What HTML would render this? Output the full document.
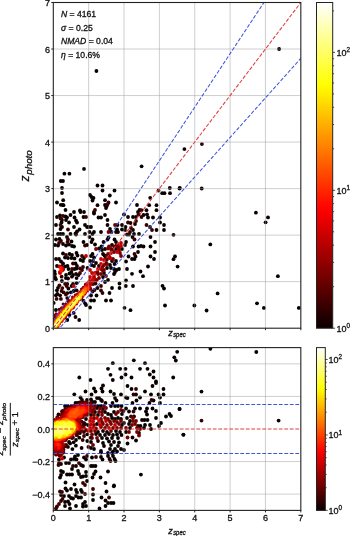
<!DOCTYPE html><html><head><meta charset="utf-8"><style>html,body{margin:0;padding:0;background:#fff;width:350px;height:536px;overflow:hidden}svg{display:block;will-change:transform}text{font-family:"Liberation Sans",sans-serif;fill:#111;stroke:#111;stroke-width:0.3px}</style></head><body>
<svg width="350" height="536" viewBox="0 0 350 536">
<defs><linearGradient id="hot" x1="0" y1="0" x2="0" y2="1"><stop offset="0.000" stop-color="#ffffff"/><stop offset="0.025" stop-color="#ffffe6"/><stop offset="0.050" stop-color="#ffffcd"/><stop offset="0.075" stop-color="#ffffb4"/><stop offset="0.100" stop-color="#ffff9b"/><stop offset="0.125" stop-color="#ffff81"/><stop offset="0.150" stop-color="#ffff68"/><stop offset="0.175" stop-color="#ffff4f"/><stop offset="0.200" stop-color="#ffff36"/><stop offset="0.225" stop-color="#ffff1d"/><stop offset="0.250" stop-color="#ffff04"/><stop offset="0.275" stop-color="#fff100"/><stop offset="0.300" stop-color="#ffe000"/><stop offset="0.325" stop-color="#ffcf00"/><stop offset="0.350" stop-color="#ffbf00"/><stop offset="0.375" stop-color="#ffae00"/><stop offset="0.400" stop-color="#ff9d00"/><stop offset="0.425" stop-color="#ff8d00"/><stop offset="0.450" stop-color="#ff7c00"/><stop offset="0.475" stop-color="#ff6b00"/><stop offset="0.500" stop-color="#ff5a00"/><stop offset="0.525" stop-color="#ff4a00"/><stop offset="0.550" stop-color="#ff3900"/><stop offset="0.575" stop-color="#ff2800"/><stop offset="0.600" stop-color="#ff1700"/><stop offset="0.625" stop-color="#ff0700"/><stop offset="0.650" stop-color="#f50000"/><stop offset="0.675" stop-color="#e40000"/><stop offset="0.700" stop-color="#d30000"/><stop offset="0.725" stop-color="#c30000"/><stop offset="0.750" stop-color="#b20000"/><stop offset="0.775" stop-color="#a10000"/><stop offset="0.800" stop-color="#900000"/><stop offset="0.825" stop-color="#800000"/><stop offset="0.850" stop-color="#6f0000"/><stop offset="0.875" stop-color="#5e0000"/><stop offset="0.900" stop-color="#4e0000"/><stop offset="0.925" stop-color="#3d0000"/><stop offset="0.950" stop-color="#2c0000"/><stop offset="0.975" stop-color="#1b0000"/><stop offset="1.000" stop-color="#0b0000"/></linearGradient>
<clipPath id="ct"><rect x="53.30" y="2.50" width="247.52" height="325.70"/></clipPath>
<clipPath id="cb"><rect x="53.30" y="347.60" width="247.52" height="162.80"/></clipPath></defs>
<g clip-path="url(#ct)"><circle cx="96.4" cy="71.0" r="1.90" fill="#0b0000"/><circle cx="279.1" cy="49.0" r="1.90" fill="#0b0000"/><circle cx="184.4" cy="149.1" r="1.90" fill="#0b0000"/><circle cx="179.5" cy="188.5" r="1.90" fill="#0b0000"/><circle cx="201.7" cy="188.5" r="1.90" fill="#0b0000"/><circle cx="255.9" cy="212.7" r="1.90" fill="#0b0000"/><circle cx="268.0" cy="217.4" r="1.90" fill="#0b0000"/><circle cx="265.6" cy="222.3" r="1.90" fill="#0b0000"/><circle cx="210.3" cy="244.4" r="1.90" fill="#0b0000"/><circle cx="177.6" cy="266.6" r="1.90" fill="#0b0000"/><circle cx="217.6" cy="293.4" r="1.90" fill="#0b0000"/><circle cx="194.4" cy="305.5" r="1.90" fill="#0b0000"/><circle cx="206.6" cy="310.5" r="1.90" fill="#0b0000"/><circle cx="277.9" cy="276.2" r="1.90" fill="#0b0000"/><circle cx="257.0" cy="303.3" r="1.90" fill="#0b0000"/><circle cx="263.9" cy="307.9" r="1.90" fill="#0b0000"/><circle cx="298.8" cy="307.9" r="1.90" fill="#0b0000"/><circle cx="84.0" cy="168.9" r="1.90" fill="#0b0000"/><circle cx="64.4" cy="173.7" r="1.90" fill="#0b0000"/><circle cx="69.4" cy="173.7" r="1.90" fill="#0b0000"/><circle cx="141.6" cy="166.3" r="1.90" fill="#0b0000"/><circle cx="60.8" cy="181.0" r="1.90" fill="#0b0000"/><circle cx="63.0" cy="181.0" r="1.90" fill="#0b0000"/><circle cx="62.0" cy="188.0" r="1.90" fill="#0b0000"/><circle cx="62.0" cy="193.0" r="1.90" fill="#0b0000"/><circle cx="63.2" cy="200.2" r="1.90" fill="#0b0000"/><circle cx="57.0" cy="202.5" r="1.90" fill="#0b0000"/><circle cx="60.8" cy="204.8" r="1.90" fill="#0b0000"/><circle cx="62.7" cy="205.0" r="1.90" fill="#0b0000"/><circle cx="63.5" cy="205.2" r="1.90" fill="#0b0000"/><circle cx="65.5" cy="210.0" r="1.90" fill="#0b0000"/><circle cx="74.0" cy="212.0" r="1.90" fill="#0b0000"/><circle cx="80.0" cy="210.5" r="1.90" fill="#0b0000"/><circle cx="80.5" cy="212.0" r="1.90" fill="#0b0000"/><circle cx="84.0" cy="212.0" r="1.90" fill="#0b0000"/><circle cx="97.5" cy="185.5" r="1.90" fill="#0b0000"/><circle cx="102.5" cy="185.5" r="1.90" fill="#0b0000"/><circle cx="102.5" cy="190.5" r="1.90" fill="#0b0000"/><circle cx="114.5" cy="190.5" r="1.90" fill="#0b0000"/><circle cx="90.0" cy="195.0" r="1.90" fill="#0b0000"/><circle cx="91.5" cy="197.0" r="1.90" fill="#0b0000"/><circle cx="93.5" cy="198.0" r="1.90" fill="#0b0000"/><circle cx="92.5" cy="200.5" r="1.90" fill="#0b0000"/><circle cx="109.8" cy="195.5" r="1.90" fill="#0b0000"/><circle cx="105.0" cy="200.2" r="1.90" fill="#0b0000"/><circle cx="116.0" cy="202.5" r="1.90" fill="#0b0000"/><circle cx="97.5" cy="205.2" r="1.90" fill="#0b0000"/><circle cx="105.0" cy="205.0" r="1.90" fill="#0b0000"/><circle cx="106.5" cy="206.5" r="1.90" fill="#0b0000"/><circle cx="106.0" cy="208.0" r="1.90" fill="#0b0000"/><circle cx="94.0" cy="212.0" r="1.90" fill="#0b0000"/><circle cx="150.2" cy="197.8" r="1.90" fill="#0b0000"/><circle cx="137.0" cy="205.0" r="1.90" fill="#0b0000"/><circle cx="149.2" cy="205.2" r="1.90" fill="#0b0000"/><circle cx="156.5" cy="205.2" r="1.90" fill="#0b0000"/><circle cx="139.5" cy="210.0" r="1.90" fill="#0b0000"/><circle cx="146.5" cy="210.2" r="1.90" fill="#0b0000"/><circle cx="156.5" cy="210.2" r="1.90" fill="#0b0000"/><circle cx="138.0" cy="212.0" r="1.90" fill="#0b0000"/><circle cx="169.8" cy="188.0" r="1.90" fill="#0b0000"/><circle cx="179.8" cy="188.0" r="1.90" fill="#0b0000"/><circle cx="162.2" cy="193.2" r="1.90" fill="#0b0000"/><circle cx="164.5" cy="193.2" r="1.90" fill="#0b0000"/><circle cx="170.0" cy="193.2" r="1.90" fill="#0b0000"/><circle cx="57.0" cy="217.0" r="1.90" fill="#0b0000"/><circle cx="60.0" cy="215.5" r="1.90" fill="#0b0000"/><circle cx="65.5" cy="216.5" r="1.90" fill="#0b0000"/><circle cx="67.0" cy="217.5" r="1.90" fill="#0b0000"/><circle cx="62.0" cy="220.0" r="1.90" fill="#0b0000"/><circle cx="66.0" cy="220.0" r="1.90" fill="#0b0000"/><circle cx="70.5" cy="215.0" r="1.90" fill="#0b0000"/><circle cx="74.5" cy="217.5" r="1.90" fill="#0b0000"/><circle cx="76.0" cy="220.5" r="1.90" fill="#0b0000"/><circle cx="77.0" cy="222.5" r="1.90" fill="#0b0000"/><circle cx="83.5" cy="217.0" r="1.90" fill="#0b0000"/><circle cx="69.0" cy="222.5" r="1.90" fill="#0b0000"/><circle cx="61.5" cy="222.5" r="1.90" fill="#0b0000"/><circle cx="56.0" cy="225.0" r="1.90" fill="#0b0000"/><circle cx="62.0" cy="227.0" r="1.90" fill="#0b0000"/><circle cx="60.5" cy="229.0" r="1.90" fill="#0b0000"/><circle cx="74.0" cy="227.0" r="1.90" fill="#0b0000"/><circle cx="79.5" cy="229.5" r="1.90" fill="#0b0000"/><circle cx="77.0" cy="231.5" r="1.90" fill="#0b0000"/><circle cx="75.5" cy="233.5" r="1.90" fill="#0b0000"/><circle cx="85.0" cy="225.0" r="1.90" fill="#0b0000"/><circle cx="87.0" cy="227.0" r="1.90" fill="#0b0000"/><circle cx="58.0" cy="234.0" r="1.90" fill="#0b0000"/><circle cx="60.5" cy="234.0" r="1.90" fill="#0b0000"/><circle cx="63.0" cy="234.0" r="1.90" fill="#0b0000"/><circle cx="70.5" cy="234.0" r="1.90" fill="#0b0000"/><circle cx="76.0" cy="234.5" r="1.90" fill="#0b0000"/><circle cx="85.0" cy="234.0" r="1.90" fill="#0b0000"/><circle cx="67.0" cy="237.0" r="1.90" fill="#0b0000"/><circle cx="56.0" cy="239.5" r="1.90" fill="#0b0000"/><circle cx="59.5" cy="239.0" r="1.90" fill="#0b0000"/><circle cx="71.5" cy="241.5" r="1.90" fill="#0b0000"/><circle cx="55.0" cy="245.0" r="1.90" fill="#0b0000"/><circle cx="58.0" cy="245.5" r="1.90" fill="#0b0000"/><circle cx="63.0" cy="244.0" r="1.90" fill="#0b0000"/><circle cx="66.0" cy="245.5" r="1.90" fill="#0b0000"/><circle cx="69.0" cy="244.5" r="1.90" fill="#0b0000"/><circle cx="72.0" cy="246.0" r="1.90" fill="#0b0000"/><circle cx="74.0" cy="246.5" r="1.90" fill="#0b0000"/><circle cx="83.5" cy="242.0" r="1.90" fill="#0b0000"/><circle cx="87.0" cy="245.0" r="1.90" fill="#0b0000"/><circle cx="94.0" cy="213.5" r="1.90" fill="#0b0000"/><circle cx="105.0" cy="215.0" r="1.90" fill="#0b0000"/><circle cx="98.5" cy="217.5" r="1.90" fill="#0b0000"/><circle cx="101.0" cy="217.5" r="1.90" fill="#0b0000"/><circle cx="107.5" cy="220.0" r="1.90" fill="#0b0000"/><circle cx="107.5" cy="225.0" r="1.90" fill="#0b0000"/><circle cx="91.0" cy="227.0" r="1.90" fill="#0b0000"/><circle cx="88.5" cy="227.0" r="1.90" fill="#0b0000"/><circle cx="117.5" cy="225.0" r="1.90" fill="#0b0000"/><circle cx="122.0" cy="225.0" r="1.90" fill="#0b0000"/><circle cx="110.0" cy="229.0" r="1.90" fill="#0b0000"/><circle cx="111.5" cy="232.0" r="1.90" fill="#0b0000"/><circle cx="117.0" cy="229.5" r="1.90" fill="#0b0000"/><circle cx="116.0" cy="232.0" r="1.90" fill="#0b0000"/><circle cx="118.0" cy="232.0" r="1.90" fill="#0b0000"/><circle cx="122.0" cy="229.5" r="1.90" fill="#0b0000"/><circle cx="101.0" cy="232.0" r="1.90" fill="#0b0000"/><circle cx="94.0" cy="232.0" r="1.90" fill="#0b0000"/><circle cx="92.5" cy="234.0" r="1.90" fill="#0b0000"/><circle cx="89.5" cy="232.0" r="1.90" fill="#0b0000"/><circle cx="89.5" cy="237.0" r="1.90" fill="#0b0000"/><circle cx="92.5" cy="239.5" r="1.90" fill="#0b0000"/><circle cx="91.5" cy="242.0" r="1.90" fill="#0b0000"/><circle cx="108.5" cy="237.5" r="1.90" fill="#0b0000"/><circle cx="107.5" cy="239.5" r="1.90" fill="#0b0000"/><circle cx="114.5" cy="239.5" r="1.90" fill="#0b0000"/><circle cx="116.0" cy="242.0" r="1.90" fill="#0b0000"/><circle cx="103.5" cy="242.0" r="1.90" fill="#0b0000"/><circle cx="95.0" cy="244.5" r="1.90" fill="#0b0000"/><circle cx="101.5" cy="246.5" r="1.90" fill="#0b0000"/><circle cx="112.0" cy="245.0" r="1.90" fill="#0b0000"/><circle cx="124.0" cy="214.5" r="1.90" fill="#0b0000"/><circle cx="128.0" cy="217.0" r="1.90" fill="#0b0000"/><circle cx="133.0" cy="217.0" r="1.90" fill="#0b0000"/><circle cx="136.0" cy="217.0" r="1.90" fill="#0b0000"/><circle cx="143.5" cy="215.0" r="1.90" fill="#0b0000"/><circle cx="147.0" cy="214.5" r="1.90" fill="#0b0000"/><circle cx="148.0" cy="217.5" r="1.90" fill="#0b0000"/><circle cx="153.0" cy="217.5" r="1.90" fill="#0b0000"/><circle cx="130.5" cy="223.0" r="1.90" fill="#0b0000"/><circle cx="135.0" cy="224.0" r="1.90" fill="#0b0000"/><circle cx="150.0" cy="227.0" r="1.90" fill="#0b0000"/><circle cx="156.5" cy="230.0" r="1.90" fill="#0b0000"/><circle cx="125.5" cy="227.0" r="1.90" fill="#0b0000"/><circle cx="125.0" cy="230.0" r="1.90" fill="#0b0000"/><circle cx="133.0" cy="230.0" r="1.90" fill="#0b0000"/><circle cx="127.0" cy="234.5" r="1.90" fill="#0b0000"/><circle cx="129.0" cy="234.5" r="1.90" fill="#0b0000"/><circle cx="134.0" cy="234.0" r="1.90" fill="#0b0000"/><circle cx="139.0" cy="234.0" r="1.90" fill="#0b0000"/><circle cx="132.5" cy="237.0" r="1.90" fill="#0b0000"/><circle cx="150.5" cy="237.0" r="1.90" fill="#0b0000"/><circle cx="126.0" cy="242.0" r="1.90" fill="#0b0000"/><circle cx="125.0" cy="245.0" r="1.90" fill="#0b0000"/><circle cx="155.0" cy="242.0" r="1.90" fill="#0b0000"/><circle cx="133.0" cy="246.5" r="1.90" fill="#0b0000"/><circle cx="138.5" cy="246.5" r="1.90" fill="#0b0000"/><circle cx="141.0" cy="246.0" r="1.90" fill="#0b0000"/><circle cx="143.5" cy="246.5" r="1.90" fill="#0b0000"/><circle cx="150.5" cy="246.5" r="1.90" fill="#0b0000"/><circle cx="160.0" cy="217.5" r="1.90" fill="#0b0000"/><circle cx="160.0" cy="222.5" r="1.90" fill="#0b0000"/><circle cx="164.0" cy="225.0" r="1.90" fill="#0b0000"/><circle cx="164.0" cy="230.0" r="1.90" fill="#0b0000"/><circle cx="173.5" cy="234.8" r="1.90" fill="#0b0000"/><circle cx="63.0" cy="253.5" r="1.90" fill="#0b0000"/><circle cx="69.5" cy="254.0" r="1.90" fill="#0b0000"/><circle cx="72.0" cy="255.0" r="1.90" fill="#0b0000"/><circle cx="76.5" cy="253.0" r="1.90" fill="#0b0000"/><circle cx="77.5" cy="255.5" r="1.90" fill="#0b0000"/><circle cx="65.0" cy="257.5" r="1.90" fill="#0b0000"/><circle cx="68.0" cy="258.0" r="1.90" fill="#0b0000"/><circle cx="71.5" cy="258.0" r="1.90" fill="#0b0000"/><circle cx="74.5" cy="258.5" r="1.90" fill="#0b0000"/><circle cx="56.0" cy="259.0" r="1.90" fill="#0b0000"/><circle cx="59.0" cy="259.0" r="1.90" fill="#0b0000"/><circle cx="84.0" cy="258.0" r="1.90" fill="#0b0000"/><circle cx="80.5" cy="260.0" r="1.90" fill="#0b0000"/><circle cx="83.0" cy="261.0" r="1.90" fill="#0b0000"/><circle cx="61.0" cy="261.5" r="1.90" fill="#0b0000"/><circle cx="63.0" cy="263.5" r="1.90" fill="#0b0000"/><circle cx="75.5" cy="263.5" r="1.90" fill="#0b0000"/><circle cx="77.0" cy="266.0" r="1.90" fill="#0b0000"/><circle cx="57.0" cy="266.0" r="1.90" fill="#0b0000"/><circle cx="65.0" cy="266.5" r="1.90" fill="#0b0000"/><circle cx="67.5" cy="266.0" r="1.90" fill="#0b0000"/><circle cx="54.5" cy="271.5" r="1.90" fill="#0b0000"/><circle cx="55.0" cy="274.0" r="1.90" fill="#0b0000"/><circle cx="68.5" cy="269.0" r="1.90" fill="#0b0000"/><circle cx="71.5" cy="272.0" r="1.90" fill="#0b0000"/><circle cx="69.5" cy="273.5" r="1.90" fill="#0b0000"/><circle cx="74.5" cy="269.0" r="1.90" fill="#0b0000"/><circle cx="76.5" cy="268.5" r="1.90" fill="#0b0000"/><circle cx="78.5" cy="275.0" r="1.90" fill="#0b0000"/><circle cx="66.0" cy="275.0" r="1.90" fill="#0b0000"/><circle cx="73.0" cy="275.0" r="1.90" fill="#0b0000"/><circle cx="76.0" cy="274.0" r="1.90" fill="#0b0000"/><circle cx="87.5" cy="268.0" r="1.90" fill="#0b0000"/><circle cx="99.0" cy="248.5" r="1.90" fill="#0b0000"/><circle cx="102.0" cy="250.0" r="1.90" fill="#0b0000"/><circle cx="105.0" cy="249.0" r="1.90" fill="#0b0000"/><circle cx="116.0" cy="249.0" r="1.90" fill="#0b0000"/><circle cx="122.0" cy="249.0" r="1.90" fill="#0b0000"/><circle cx="92.5" cy="254.0" r="1.90" fill="#0b0000"/><circle cx="91.0" cy="256.0" r="1.90" fill="#0b0000"/><circle cx="94.0" cy="257.5" r="1.90" fill="#0b0000"/><circle cx="103.0" cy="254.0" r="1.90" fill="#0b0000"/><circle cx="104.5" cy="255.5" r="1.90" fill="#0b0000"/><circle cx="105.5" cy="257.0" r="1.90" fill="#0b0000"/><circle cx="116.0" cy="261.0" r="1.90" fill="#0b0000"/><circle cx="112.0" cy="261.0" r="1.90" fill="#0b0000"/><circle cx="114.5" cy="264.0" r="1.90" fill="#0b0000"/><circle cx="90.0" cy="261.0" r="1.90" fill="#0b0000"/><circle cx="93.0" cy="261.0" r="1.90" fill="#0b0000"/><circle cx="96.0" cy="263.0" r="1.90" fill="#0b0000"/><circle cx="91.5" cy="265.0" r="1.90" fill="#0b0000"/><circle cx="94.0" cy="266.0" r="1.90" fill="#0b0000"/><circle cx="99.0" cy="266.0" r="1.90" fill="#0b0000"/><circle cx="110.0" cy="265.0" r="1.90" fill="#0b0000"/><circle cx="111.0" cy="268.0" r="1.90" fill="#0b0000"/><circle cx="114.0" cy="269.0" r="1.90" fill="#0b0000"/><circle cx="116.5" cy="270.0" r="1.90" fill="#0b0000"/><circle cx="119.0" cy="269.0" r="1.90" fill="#0b0000"/><circle cx="107.0" cy="268.0" r="1.90" fill="#0b0000"/><circle cx="104.0" cy="273.0" r="1.90" fill="#0b0000"/><circle cx="115.0" cy="272.0" r="1.90" fill="#0b0000"/><circle cx="114.0" cy="274.0" r="1.90" fill="#0b0000"/><circle cx="103.0" cy="277.0" r="1.90" fill="#0b0000"/><circle cx="108.0" cy="280.0" r="1.90" fill="#0b0000"/><circle cx="105.0" cy="282.0" r="1.90" fill="#0b0000"/><circle cx="138.0" cy="252.0" r="1.90" fill="#0b0000"/><circle cx="128.5" cy="256.5" r="1.90" fill="#0b0000"/><circle cx="132.0" cy="259.0" r="1.90" fill="#0b0000"/><circle cx="134.5" cy="259.0" r="1.90" fill="#0b0000"/><circle cx="135.5" cy="256.5" r="1.90" fill="#0b0000"/><circle cx="150.5" cy="256.5" r="1.90" fill="#0b0000"/><circle cx="154.0" cy="259.0" r="1.90" fill="#0b0000"/><circle cx="155.0" cy="252.0" r="1.90" fill="#0b0000"/><circle cx="126.0" cy="261.5" r="1.90" fill="#0b0000"/><circle cx="148.0" cy="266.5" r="1.90" fill="#0b0000"/><circle cx="127.0" cy="269.0" r="1.90" fill="#0b0000"/><circle cx="140.5" cy="271.5" r="1.90" fill="#0b0000"/><circle cx="132.0" cy="273.8" r="1.90" fill="#0b0000"/><circle cx="143.0" cy="276.2" r="1.90" fill="#0b0000"/><circle cx="126.0" cy="280.5" r="1.90" fill="#0b0000"/><circle cx="175.0" cy="256.5" r="1.90" fill="#0b0000"/><circle cx="173.5" cy="259.2" r="1.90" fill="#0b0000"/><circle cx="92.5" cy="291.5" r="1.90" fill="#0b0000"/><circle cx="97.5" cy="288.0" r="1.90" fill="#0b0000"/><circle cx="91.0" cy="295.5" r="1.90" fill="#0b0000"/><circle cx="96.5" cy="295.5" r="1.90" fill="#0b0000"/><circle cx="91.0" cy="300.5" r="1.90" fill="#0b0000"/><circle cx="94.0" cy="300.5" r="1.90" fill="#0b0000"/><circle cx="106.0" cy="300.5" r="1.90" fill="#0b0000"/><circle cx="111.0" cy="300.5" r="1.90" fill="#0b0000"/><circle cx="109.5" cy="293.0" r="1.90" fill="#0b0000"/><circle cx="112.0" cy="288.0" r="1.90" fill="#0b0000"/><circle cx="119.5" cy="283.5" r="1.90" fill="#0b0000"/><circle cx="119.5" cy="288.0" r="1.90" fill="#0b0000"/><circle cx="90.0" cy="307.5" r="1.90" fill="#0b0000"/><circle cx="125.8" cy="286.0" r="1.90" fill="#0b0000"/><circle cx="133.0" cy="286.0" r="1.90" fill="#0b0000"/><circle cx="124.5" cy="307.8" r="1.90" fill="#0b0000"/><circle cx="130.5" cy="310.2" r="1.90" fill="#0b0000"/><circle cx="162.5" cy="285.8" r="1.90" fill="#0b0000"/><circle cx="164.0" cy="288.5" r="1.90" fill="#0b0000"/><circle cx="165.0" cy="305.5" r="1.90" fill="#0b0000"/><circle cx="75.5" cy="317.0" r="1.90" fill="#0b0000"/><circle cx="79.2" cy="320.0" r="1.90" fill="#0b0000"/><circle cx="86.0" cy="305.0" r="1.90" fill="#0b0000"/><circle cx="55.1" cy="277.4" r="1.90" fill="#0b0000"/><circle cx="65.9" cy="278.1" r="1.90" fill="#0b0000"/><circle cx="68.0" cy="278.5" r="1.90" fill="#0b0000"/><circle cx="71.9" cy="276.7" r="1.90" fill="#0b0000"/><circle cx="76.6" cy="278.1" r="1.90" fill="#0b0000"/><circle cx="55.9" cy="279.2" r="1.90" fill="#0b0000"/><circle cx="61.9" cy="281.0" r="1.90" fill="#0b0000"/><circle cx="58.0" cy="287.8" r="1.90" fill="#0b0000"/><circle cx="56.9" cy="290.3" r="1.90" fill="#0b0000"/><circle cx="68.4" cy="288.5" r="1.90" fill="#0b0000"/><circle cx="71.6" cy="286.0" r="1.90" fill="#0b0000"/><circle cx="73.0" cy="283.9" r="1.90" fill="#0b0000"/><circle cx="76.6" cy="283.1" r="1.90" fill="#0b0000"/><circle cx="67.3" cy="293.1" r="1.90" fill="#0b0000"/><circle cx="70.9" cy="292.4" r="1.90" fill="#0b0000"/><circle cx="73.7" cy="291.0" r="1.90" fill="#0b0000"/><circle cx="76.6" cy="290.3" r="1.90" fill="#0b0000"/><circle cx="55.9" cy="295.3" r="1.90" fill="#0b0000"/><circle cx="57.3" cy="293.9" r="1.90" fill="#0b0000"/><circle cx="60.1" cy="295.3" r="1.90" fill="#0b0000"/><circle cx="67.3" cy="298.1" r="1.90" fill="#0b0000"/><circle cx="53.7" cy="302.9" r="1.90" fill="#0b0000"/><circle cx="55.9" cy="310.0" r="1.90" fill="#0b0000"/><circle cx="56.6" cy="315.0" r="1.90" fill="#0b0000"/><circle cx="55.1" cy="318.6" r="1.90" fill="#0b0000"/><circle cx="67.3" cy="320.0" r="1.90" fill="#0b0000"/><circle cx="69.4" cy="315.0" r="1.90" fill="#0b0000"/><circle cx="73.7" cy="312.9" r="1.90" fill="#0b0000"/><circle cx="83.4" cy="300.7" r="1.90" fill="#0b0000"/><circle cx="85.1" cy="303.3" r="1.90" fill="#0b0000"/><circle cx="201.9" cy="144.1" r="1.90" fill="#390000"/><circle cx="108.5" cy="202.5" r="1.90" fill="#390000"/><circle cx="107.5" cy="204.5" r="1.90" fill="#390000"/><circle cx="95.0" cy="210.0" r="1.90" fill="#390000"/><circle cx="141.5" cy="210.2" r="1.90" fill="#390000"/><circle cx="158.5" cy="190.5" r="1.90" fill="#390000"/><circle cx="63.0" cy="216.0" r="1.90" fill="#390000"/><circle cx="60.5" cy="218.5" r="1.90" fill="#390000"/><circle cx="86.0" cy="217.0" r="1.90" fill="#390000"/><circle cx="60.5" cy="225.0" r="1.90" fill="#390000"/><circle cx="68.0" cy="229.5" r="1.90" fill="#390000"/><circle cx="61.0" cy="241.0" r="1.90" fill="#390000"/><circle cx="59.0" cy="243.0" r="1.90" fill="#390000"/><circle cx="68.0" cy="239.5" r="1.90" fill="#390000"/><circle cx="67.5" cy="242.0" r="1.90" fill="#390000"/><circle cx="85.0" cy="245.5" r="1.90" fill="#390000"/><circle cx="115.0" cy="225.0" r="1.90" fill="#760000"/><circle cx="108.5" cy="232.0" r="1.90" fill="#760000"/><circle cx="109.0" cy="246.5" r="1.90" fill="#760000"/><circle cx="114.5" cy="246.5" r="1.90" fill="#760000"/><circle cx="138.5" cy="214.5" r="1.90" fill="#390000"/><circle cx="141.5" cy="217.0" r="1.90" fill="#390000"/><circle cx="128.0" cy="222.5" r="1.90" fill="#390000"/><circle cx="136.0" cy="221.0" r="1.90" fill="#390000"/><circle cx="146.5" cy="225.0" r="1.90" fill="#390000"/><circle cx="152.0" cy="230.0" r="1.90" fill="#390000"/><circle cx="131.0" cy="228.0" r="1.90" fill="#390000"/><circle cx="130.0" cy="232.0" r="1.90" fill="#390000"/><circle cx="134.5" cy="239.5" r="1.90" fill="#390000"/><circle cx="66.0" cy="255.0" r="1.90" fill="#390000"/><circle cx="82.0" cy="256.0" r="1.90" fill="#390000"/><circle cx="73.0" cy="263.5" r="1.90" fill="#390000"/><circle cx="63.0" cy="269.5" r="1.90" fill="#390000"/><circle cx="72.0" cy="269.0" r="1.90" fill="#390000"/><circle cx="80.0" cy="268.5" r="1.90" fill="#390000"/><circle cx="82.0" cy="270.0" r="1.90" fill="#390000"/><circle cx="83.0" cy="267.0" r="1.90" fill="#390000"/><circle cx="80.0" cy="273.0" r="1.90" fill="#390000"/><circle cx="96.0" cy="249.0" r="1.90" fill="#760000"/><circle cx="108.0" cy="248.5" r="1.90" fill="#760000"/><circle cx="111.0" cy="249.0" r="1.90" fill="#760000"/><circle cx="119.0" cy="250.0" r="1.90" fill="#760000"/><circle cx="108.0" cy="254.0" r="1.90" fill="#760000"/><circle cx="114.0" cy="252.0" r="1.90" fill="#760000"/><circle cx="120.0" cy="253.0" r="1.90" fill="#760000"/><circle cx="121.0" cy="256.0" r="1.90" fill="#760000"/><circle cx="107.0" cy="259.0" r="1.90" fill="#760000"/><circle cx="113.0" cy="259.0" r="1.90" fill="#760000"/><circle cx="107.0" cy="264.0" r="1.90" fill="#760000"/><circle cx="104.0" cy="270.0" r="1.90" fill="#760000"/><circle cx="98.0" cy="274.0" r="1.90" fill="#760000"/><circle cx="101.0" cy="274.0" r="1.90" fill="#760000"/><circle cx="106.0" cy="276.0" r="1.90" fill="#760000"/><circle cx="99.0" cy="278.0" r="1.90" fill="#760000"/><circle cx="94.0" cy="280.0" r="1.90" fill="#760000"/><circle cx="134.5" cy="254.0" r="1.90" fill="#390000"/><circle cx="93.0" cy="284.0" r="1.90" fill="#390000"/><circle cx="95.5" cy="283.5" r="1.90" fill="#390000"/><circle cx="94.5" cy="290.0" r="1.90" fill="#390000"/><circle cx="101.0" cy="286.0" r="1.90" fill="#390000"/><circle cx="101.0" cy="290.5" r="1.90" fill="#390000"/><circle cx="102.5" cy="293.0" r="1.90" fill="#390000"/><circle cx="61.6" cy="276.7" r="1.90" fill="#390000"/><circle cx="59.4" cy="285.3" r="1.90" fill="#390000"/><circle cx="65.1" cy="283.9" r="1.90" fill="#390000"/><circle cx="67.3" cy="283.9" r="1.90" fill="#390000"/><circle cx="66.6" cy="286.0" r="1.90" fill="#390000"/><circle cx="62.3" cy="288.1" r="1.90" fill="#390000"/><circle cx="61.6" cy="291.0" r="1.90" fill="#390000"/><circle cx="63.7" cy="292.4" r="1.90" fill="#390000"/><circle cx="65.9" cy="294.6" r="1.90" fill="#390000"/><circle cx="56.6" cy="298.9" r="1.90" fill="#390000"/><circle cx="60.9" cy="298.9" r="1.90" fill="#390000"/><circle cx="61.5" cy="266.5" r="1.90" fill="#390000"/><circle cx="118.0" cy="245.0" r="1.90" fill="#c60000"/><circle cx="121.0" cy="243.0" r="1.90" fill="#c60000"/><circle cx="121.0" cy="246.0" r="1.90" fill="#c60000"/><circle cx="86.0" cy="256.0" r="1.90" fill="#c60000"/><circle cx="59.5" cy="266.5" r="1.90" fill="#c60000"/><circle cx="62.0" cy="270.5" r="1.90" fill="#c60000"/><circle cx="60.0" cy="272.0" r="1.90" fill="#c60000"/><circle cx="111.0" cy="253.0" r="1.90" fill="#c60000"/><circle cx="117.0" cy="252.0" r="1.90" fill="#c60000"/><circle cx="101.0" cy="259.0" r="1.90" fill="#c60000"/><circle cx="104.0" cy="260.0" r="1.90" fill="#c60000"/><circle cx="110.0" cy="258.0" r="1.90" fill="#c60000"/><circle cx="101.0" cy="264.0" r="1.90" fill="#c60000"/><circle cx="104.0" cy="265.0" r="1.90" fill="#c60000"/><circle cx="98.0" cy="269.0" r="1.90" fill="#c60000"/><circle cx="101.0" cy="269.0" r="1.90" fill="#c60000"/><circle cx="90.0" cy="270.0" r="1.90" fill="#c60000"/><circle cx="92.0" cy="273.0" r="1.90" fill="#c60000"/><circle cx="95.0" cy="273.0" r="1.90" fill="#c60000"/><circle cx="90.0" cy="277.0" r="1.90" fill="#c60000"/><circle cx="94.0" cy="276.0" r="1.90" fill="#c60000"/><circle cx="89.0" cy="282.0" r="1.90" fill="#c60000"/><circle cx="90.0" cy="285.0" r="1.90" fill="#c60000"/><circle cx="90.5" cy="289.0" r="1.90" fill="#c60000"/><circle cx="73.7" cy="286.0" r="1.90" fill="#c60000"/><circle cx="60.0" cy="273.0" r="1.90" fill="#c60000"/><circle cx="62.5" cy="268.5" r="1.90" fill="#c60000"/><circle cx="61.0" cy="268.0" r="1.90" fill="#ff1700"/><circle cx="61.0" cy="270.6" r="1.90" fill="#ff1700"/><circle cx="108.9" cy="256.4" r="2.00" fill="#430000"/><circle cx="116.5" cy="245.8" r="2.00" fill="#5e0000"/><circle cx="106.4" cy="259.9" r="2.00" fill="#5f0000"/><circle cx="106.8" cy="256.1" r="2.00" fill="#5f0000"/><circle cx="97.3" cy="272.2" r="2.00" fill="#6b0000"/><circle cx="111.9" cy="249.6" r="2.00" fill="#6b0000"/><circle cx="102.6" cy="266.3" r="2.00" fill="#700000"/><circle cx="106.1" cy="263.8" r="2.00" fill="#720000"/><circle cx="102.7" cy="270.2" r="2.00" fill="#760000"/><circle cx="88.0" cy="283.5" r="2.00" fill="#770000"/><circle cx="118.3" cy="247.6" r="2.00" fill="#810000"/><circle cx="96.7" cy="279.9" r="2.00" fill="#850000"/><circle cx="94.0" cy="278.0" r="2.00" fill="#950000"/><circle cx="90.2" cy="280.0" r="2.00" fill="#a60000"/><circle cx="90.0" cy="284.0" r="2.00" fill="#b20000"/><circle cx="109.8" cy="258.0" r="2.00" fill="#b80000"/><circle cx="91.8" cy="282.0" r="2.00" fill="#c80000"/><circle cx="89.5" cy="285.6" r="2.00" fill="#ca0000"/><circle cx="93.0" cy="279.3" r="2.00" fill="#da0000"/><circle cx="50.8" cy="320.2" r="1.50" fill="#3d0000"/><circle cx="50.8" cy="321.1" r="1.50" fill="#430000"/><circle cx="50.5" cy="320.5" r="1.50" fill="#440000"/><circle cx="65.3" cy="317.6" r="1.50" fill="#440000"/><circle cx="90.3" cy="288.3" r="1.50" fill="#440000"/><circle cx="72.9" cy="308.0" r="1.50" fill="#470000"/><circle cx="85.4" cy="284.5" r="1.50" fill="#480000"/><circle cx="81.6" cy="298.0" r="1.50" fill="#490000"/><circle cx="77.1" cy="294.5" r="1.50" fill="#4d0000"/><circle cx="55.9" cy="314.7" r="1.50" fill="#4d0000"/><circle cx="81.5" cy="288.9" r="1.50" fill="#4e0000"/><circle cx="68.5" cy="301.6" r="1.50" fill="#4e0000"/><circle cx="59.1" cy="309.2" r="1.50" fill="#4e0000"/><circle cx="63.1" cy="303.9" r="1.50" fill="#540000"/><circle cx="56.7" cy="328.2" r="1.50" fill="#590000"/><circle cx="85.8" cy="284.8" r="1.50" fill="#590000"/><circle cx="78.0" cy="294.1" r="1.50" fill="#5c0000"/><circle cx="68.0" cy="300.9" r="1.50" fill="#5c0000"/><circle cx="53.7" cy="320.3" r="1.50" fill="#5e0000"/><circle cx="63.3" cy="319.0" r="1.50" fill="#5f0000"/><circle cx="55.0" cy="318.8" r="1.50" fill="#620000"/><circle cx="80.1" cy="299.5" r="1.50" fill="#630000"/><circle cx="82.2" cy="289.8" r="1.50" fill="#640000"/><circle cx="54.9" cy="315.5" r="1.50" fill="#650000"/><circle cx="54.3" cy="331.0" r="1.50" fill="#670000"/><circle cx="55.0" cy="329.8" r="1.50" fill="#690000"/><circle cx="69.0" cy="303.1" r="1.50" fill="#690000"/><circle cx="75.2" cy="297.9" r="1.50" fill="#6f0000"/><circle cx="53.6" cy="320.7" r="1.50" fill="#700000"/><circle cx="65.7" cy="304.0" r="1.50" fill="#700000"/><circle cx="65.6" cy="306.5" r="1.50" fill="#700000"/><circle cx="83.3" cy="287.2" r="1.50" fill="#710000"/><circle cx="59.9" cy="310.9" r="1.50" fill="#720000"/><circle cx="64.5" cy="306.4" r="1.50" fill="#740000"/><circle cx="84.4" cy="286.9" r="1.50" fill="#760000"/><circle cx="68.2" cy="299.7" r="1.50" fill="#770000"/><circle cx="64.9" cy="316.4" r="1.50" fill="#780000"/><circle cx="64.5" cy="307.2" r="1.50" fill="#780000"/><circle cx="54.9" cy="320.3" r="1.50" fill="#780000"/><circle cx="61.2" cy="321.4" r="1.50" fill="#780000"/><circle cx="55.4" cy="328.8" r="1.50" fill="#7b0000"/><circle cx="56.0" cy="313.7" r="1.50" fill="#7b0000"/><circle cx="88.3" cy="287.5" r="1.50" fill="#7b0000"/><circle cx="54.2" cy="321.4" r="1.50" fill="#7b0000"/><circle cx="70.1" cy="300.9" r="1.50" fill="#800000"/><circle cx="49.6" cy="328.7" r="1.50" fill="#820000"/><circle cx="87.7" cy="291.1" r="1.50" fill="#840000"/><circle cx="51.9" cy="323.0" r="1.50" fill="#850000"/><circle cx="62.1" cy="309.9" r="1.50" fill="#890000"/><circle cx="61.3" cy="308.0" r="1.50" fill="#890000"/><circle cx="63.5" cy="307.5" r="1.50" fill="#8b0000"/><circle cx="64.8" cy="305.0" r="1.50" fill="#8c0000"/><circle cx="59.4" cy="313.5" r="1.50" fill="#8c0000"/><circle cx="82.3" cy="296.5" r="1.50" fill="#8d0000"/><circle cx="52.6" cy="322.5" r="1.50" fill="#8f0000"/><circle cx="72.0" cy="299.4" r="1.50" fill="#910000"/><circle cx="66.7" cy="314.8" r="1.50" fill="#940000"/><circle cx="63.8" cy="309.2" r="1.50" fill="#940000"/><circle cx="72.5" cy="296.9" r="1.50" fill="#970000"/><circle cx="57.2" cy="314.4" r="1.50" fill="#9b0000"/><circle cx="88.2" cy="289.0" r="1.50" fill="#9b0000"/><circle cx="85.9" cy="284.0" r="1.50" fill="#9c0000"/><circle cx="73.6" cy="307.3" r="1.50" fill="#9d0000"/><circle cx="75.2" cy="295.0" r="1.50" fill="#9e0000"/><circle cx="80.2" cy="291.9" r="1.50" fill="#9f0000"/><circle cx="52.5" cy="320.3" r="1.50" fill="#9f0000"/><circle cx="61.1" cy="310.3" r="1.50" fill="#a20000"/><circle cx="62.0" cy="307.8" r="1.50" fill="#a50000"/><circle cx="78.9" cy="292.8" r="1.50" fill="#a70000"/><circle cx="50.4" cy="327.5" r="1.50" fill="#ac0000"/><circle cx="76.7" cy="303.6" r="1.50" fill="#ac0000"/><circle cx="69.0" cy="302.4" r="1.50" fill="#ad0000"/><circle cx="56.5" cy="315.8" r="1.50" fill="#ae0000"/><circle cx="75.7" cy="294.9" r="1.50" fill="#ae0000"/><circle cx="83.0" cy="296.0" r="1.50" fill="#b10000"/><circle cx="62.1" cy="321.1" r="1.50" fill="#b20000"/><circle cx="67.1" cy="305.1" r="1.50" fill="#b50000"/><circle cx="83.5" cy="288.3" r="1.50" fill="#b80000"/><circle cx="50.0" cy="326.9" r="1.50" fill="#b80000"/><circle cx="75.2" cy="296.2" r="1.50" fill="#b80000"/><circle cx="58.5" cy="314.9" r="1.50" fill="#ba0000"/><circle cx="70.6" cy="301.7" r="1.50" fill="#bd0000"/><circle cx="76.3" cy="304.1" r="1.50" fill="#be0000"/><circle cx="84.9" cy="294.1" r="1.50" fill="#c00000"/><circle cx="57.5" cy="326.5" r="1.50" fill="#c60000"/><circle cx="66.0" cy="315.6" r="1.50" fill="#ca0000"/><circle cx="86.6" cy="285.4" r="1.50" fill="#cc0000"/><circle cx="81.1" cy="290.7" r="1.50" fill="#cf0000"/><circle cx="57.1" cy="316.9" r="1.50" fill="#d20000"/><circle cx="51.3" cy="326.5" r="1.50" fill="#d30000"/><circle cx="69.0" cy="312.0" r="1.50" fill="#d40000"/><circle cx="77.6" cy="301.7" r="1.50" fill="#d50000"/><circle cx="69.5" cy="311.4" r="1.50" fill="#d70000"/><circle cx="58.1" cy="325.9" r="1.50" fill="#d90000"/><circle cx="59.9" cy="313.2" r="1.50" fill="#d90000"/><circle cx="57.8" cy="315.1" r="1.50" fill="#db0000"/><circle cx="56.4" cy="318.3" r="1.50" fill="#e10000"/><circle cx="78.9" cy="293.8" r="1.50" fill="#e20000"/><circle cx="85.7" cy="292.4" r="1.50" fill="#e30000"/><circle cx="55.4" cy="319.3" r="1.50" fill="#e70000"/><circle cx="86.2" cy="286.2" r="1.50" fill="#eb0000"/><circle cx="66.1" cy="305.9" r="1.50" fill="#f20000"/><circle cx="64.0" cy="317.5" r="1.50" fill="#fb0000"/><circle cx="59.6" cy="323.8" r="1.50" fill="#fb0000"/><circle cx="88.7" cy="288.2" r="1.50" fill="#ff0000"/><circle cx="87.9" cy="286.3" r="1.50" fill="#ff0300"/><circle cx="89.2" cy="287.1" r="1.50" fill="#ff0600"/><circle cx="73.4" cy="306.4" r="1.50" fill="#ff0900"/><circle cx="71.0" cy="308.9" r="1.50" fill="#ff1100"/><circle cx="62.8" cy="319.1" r="1.50" fill="#ff1300"/><circle cx="80.1" cy="299.0" r="1.50" fill="#ff1400"/><circle cx="87.5" cy="289.5" r="1.50" fill="#ff1500"/><circle cx="52.9" cy="324.6" r="1.50" fill="#ff1a00"/><circle cx="57.5" cy="317.8" r="1.50" fill="#ff1b00"/><circle cx="71.6" cy="301.3" r="1.50" fill="#ff1b00"/><circle cx="79.8" cy="293.2" r="1.50" fill="#ff1b00"/><circle cx="82.9" cy="295.2" r="1.50" fill="#ff1f00"/><circle cx="85.4" cy="287.6" r="1.50" fill="#ff1f00"/><circle cx="62.1" cy="311.5" r="1.50" fill="#ff2000"/><circle cx="63.8" cy="309.4" r="1.50" fill="#ff2300"/><circle cx="87.3" cy="287.7" r="1.50" fill="#ff2500"/><circle cx="71.7" cy="308.3" r="1.50" fill="#ff2600"/><circle cx="59.5" cy="314.7" r="1.50" fill="#ff2700"/><circle cx="74.4" cy="305.3" r="1.50" fill="#ff2900"/><circle cx="77.7" cy="301.3" r="1.50" fill="#ff2a00"/><circle cx="53.5" cy="323.2" r="1.50" fill="#ff2b00"/><circle cx="73.0" cy="299.9" r="1.50" fill="#ff2c00"/><circle cx="68.1" cy="304.4" r="1.50" fill="#ff2c00"/><circle cx="70.2" cy="303.1" r="1.50" fill="#ff3000"/><circle cx="74.5" cy="299.0" r="1.50" fill="#ff3100"/><circle cx="62.0" cy="320.1" r="1.50" fill="#ff3100"/><circle cx="59.0" cy="315.9" r="1.50" fill="#ff3200"/><circle cx="70.4" cy="309.7" r="1.50" fill="#ff3500"/><circle cx="54.1" cy="322.6" r="1.50" fill="#ff3600"/><circle cx="67.3" cy="313.2" r="1.50" fill="#ff3600"/><circle cx="86.0" cy="290.5" r="1.50" fill="#ff3700"/><circle cx="82.8" cy="290.0" r="1.50" fill="#ff3900"/><circle cx="61.3" cy="313.1" r="1.50" fill="#ff3c00"/><circle cx="86.8" cy="288.2" r="1.50" fill="#ff3c00"/><circle cx="52.3" cy="326.0" r="1.50" fill="#ff3d00"/><circle cx="65.2" cy="308.7" r="1.50" fill="#ff4000"/><circle cx="61.9" cy="312.2" r="1.50" fill="#ff4100"/><circle cx="84.9" cy="288.3" r="1.50" fill="#ff4200"/><circle cx="66.4" cy="307.2" r="1.50" fill="#ff4700"/><circle cx="58.3" cy="317.1" r="1.50" fill="#ff4700"/><circle cx="78.8" cy="294.8" r="1.50" fill="#ff4700"/><circle cx="63.3" cy="317.8" r="1.50" fill="#ff4a00"/><circle cx="82.6" cy="291.1" r="1.50" fill="#ff4d00"/><circle cx="84.6" cy="292.7" r="1.50" fill="#ff4d00"/><circle cx="58.7" cy="324.1" r="1.50" fill="#ff4e00"/><circle cx="74.4" cy="304.7" r="1.50" fill="#ff4f00"/><circle cx="78.7" cy="300.0" r="1.50" fill="#ff5200"/><circle cx="69.6" cy="304.3" r="1.50" fill="#ff5400"/><circle cx="55.8" cy="328.0" r="1.50" fill="#ff5500"/><circle cx="68.0" cy="311.9" r="1.50" fill="#ff5900"/><circle cx="53.5" cy="325.1" r="1.50" fill="#ff5d00"/><circle cx="60.0" cy="322.0" r="1.50" fill="#ff5d00"/><circle cx="85.5" cy="290.8" r="1.50" fill="#ff5f00"/><circle cx="63.0" cy="311.2" r="1.50" fill="#ff6000"/><circle cx="73.2" cy="300.7" r="1.50" fill="#ff6100"/><circle cx="57.4" cy="325.7" r="1.50" fill="#ff6400"/><circle cx="85.5" cy="289.3" r="1.50" fill="#ff6400"/><circle cx="52.9" cy="331.5" r="1.50" fill="#ff6500"/><circle cx="75.6" cy="298.2" r="1.50" fill="#ff6600"/><circle cx="76.3" cy="297.3" r="1.50" fill="#ff6a00"/><circle cx="57.6" cy="319.3" r="1.50" fill="#ff6e00"/><circle cx="55.0" cy="322.5" r="1.50" fill="#ff6e00"/><circle cx="84.6" cy="290.0" r="1.50" fill="#ff7000"/><circle cx="68.4" cy="305.8" r="1.50" fill="#ff7200"/><circle cx="56.4" cy="320.4" r="1.50" fill="#ff7400"/><circle cx="64.8" cy="310.2" r="1.50" fill="#ff7600"/><circle cx="84.0" cy="290.3" r="1.50" fill="#ff7600"/><circle cx="84.9" cy="291.6" r="1.50" fill="#ff7900"/><circle cx="81.2" cy="293.2" r="1.50" fill="#ff7900"/><circle cx="82.1" cy="291.8" r="1.50" fill="#ff7a00"/><circle cx="60.7" cy="315.3" r="1.50" fill="#ff8300"/><circle cx="67.3" cy="306.8" r="1.50" fill="#ff8400"/><circle cx="55.9" cy="321.1" r="1.50" fill="#ff8600"/><circle cx="58.9" cy="318.0" r="1.50" fill="#ff8600"/><circle cx="77.1" cy="296.7" r="1.50" fill="#ff8b00"/><circle cx="54.1" cy="323.9" r="1.50" fill="#ff8f00"/><circle cx="76.5" cy="302.2" r="1.50" fill="#ff9400"/><circle cx="71.1" cy="303.0" r="1.50" fill="#ff9600"/><circle cx="64.1" cy="316.5" r="1.50" fill="#ff9800"/><circle cx="83.2" cy="291.5" r="1.50" fill="#ff9900"/><circle cx="80.3" cy="297.7" r="1.50" fill="#ff9900"/><circle cx="83.7" cy="292.6" r="1.50" fill="#ff9a00"/><circle cx="72.2" cy="302.4" r="1.50" fill="#ff9d00"/><circle cx="72.3" cy="306.7" r="1.50" fill="#ff9f00"/><circle cx="71.1" cy="307.7" r="1.50" fill="#ffa200"/><circle cx="73.6" cy="301.1" r="1.50" fill="#ffa300"/><circle cx="74.6" cy="300.0" r="1.50" fill="#ffa300"/><circle cx="53.4" cy="325.4" r="1.50" fill="#ffa400"/><circle cx="59.3" cy="317.1" r="1.50" fill="#ffa500"/><circle cx="61.2" cy="314.6" r="1.50" fill="#ffa800"/><circle cx="69.9" cy="305.2" r="1.50" fill="#ffa800"/><circle cx="82.8" cy="294.3" r="1.50" fill="#ffab00"/><circle cx="57.9" cy="324.4" r="1.50" fill="#ffaf00"/><circle cx="67.8" cy="307.0" r="1.50" fill="#ffb000"/><circle cx="82.3" cy="293.0" r="1.50" fill="#ffb200"/><circle cx="70.5" cy="303.8" r="1.50" fill="#ffb400"/><circle cx="58.1" cy="319.1" r="1.50" fill="#ffb800"/><circle cx="78.3" cy="296.2" r="1.50" fill="#ffb900"/><circle cx="80.7" cy="293.8" r="1.50" fill="#ffb900"/><circle cx="67.9" cy="311.3" r="1.50" fill="#ffbc00"/><circle cx="65.3" cy="314.5" r="1.50" fill="#ffbc00"/><circle cx="67.8" cy="308.0" r="1.50" fill="#ffbd00"/><circle cx="63.8" cy="312.0" r="1.50" fill="#ffc000"/><circle cx="56.6" cy="321.8" r="1.50" fill="#ffc100"/><circle cx="56.0" cy="326.7" r="1.50" fill="#ffc100"/><circle cx="80.6" cy="296.9" r="1.50" fill="#ffc200"/><circle cx="66.4" cy="312.3" r="1.50" fill="#ffca00"/><circle cx="61.5" cy="315.6" r="1.50" fill="#ffd000"/><circle cx="54.2" cy="325.5" r="1.50" fill="#ffd000"/><circle cx="66.7" cy="308.5" r="1.50" fill="#ffd100"/><circle cx="59.8" cy="321.0" r="1.50" fill="#ffd100"/><circle cx="81.7" cy="293.7" r="1.50" fill="#ffd300"/><circle cx="55.0" cy="328.0" r="1.50" fill="#ffd300"/><circle cx="55.5" cy="326.8" r="1.50" fill="#ffd400"/><circle cx="80.1" cy="295.7" r="1.50" fill="#ffd500"/><circle cx="52.7" cy="327.3" r="1.50" fill="#ffda00"/><circle cx="79.7" cy="296.0" r="1.50" fill="#ffdb00"/><circle cx="68.4" cy="307.4" r="1.50" fill="#ffdb00"/><circle cx="61.4" cy="318.5" r="1.50" fill="#ffdf00"/><circle cx="60.7" cy="319.9" r="1.50" fill="#ffe600"/><circle cx="73.1" cy="302.4" r="1.50" fill="#ffe600"/><circle cx="68.4" cy="309.9" r="1.50" fill="#ffe900"/><circle cx="52.2" cy="328.0" r="1.50" fill="#ffea00"/><circle cx="58.0" cy="320.0" r="1.50" fill="#ffeb00"/><circle cx="80.9" cy="294.8" r="1.50" fill="#ffec00"/><circle cx="53.2" cy="330.1" r="1.50" fill="#ffee00"/><circle cx="51.5" cy="328.9" r="1.50" fill="#fff000"/><circle cx="64.7" cy="313.7" r="1.50" fill="#fff100"/><circle cx="62.1" cy="314.5" r="1.50" fill="#fff300"/><circle cx="63.9" cy="314.7" r="1.50" fill="#fff500"/><circle cx="65.3" cy="313.3" r="1.50" fill="#fff600"/><circle cx="52.4" cy="328.8" r="1.50" fill="#fffb00"/><circle cx="76.4" cy="298.5" r="1.50" fill="#fffb00"/><circle cx="66.2" cy="309.8" r="1.50" fill="#fffd00"/><circle cx="79.0" cy="298.6" r="1.50" fill="#fffd00"/><circle cx="63.4" cy="315.6" r="1.50" fill="#fffd00"/><circle cx="64.7" cy="311.4" r="1.50" fill="#ffff01"/><circle cx="71.3" cy="306.9" r="1.50" fill="#ffff01"/><circle cx="50.2" cy="330.6" r="1.50" fill="#ffff01"/><circle cx="71.9" cy="304.7" r="1.50" fill="#ffff02"/><circle cx="51.5" cy="330.5" r="1.50" fill="#ffff02"/><circle cx="57.4" cy="320.8" r="1.50" fill="#ffff02"/><circle cx="76.7" cy="300.6" r="1.50" fill="#ffff02"/><circle cx="50.2" cy="331.7" r="1.50" fill="#ffff05"/><circle cx="64.5" cy="312.0" r="1.50" fill="#ffff07"/><circle cx="75.8" cy="300.8" r="1.50" fill="#ffff09"/><circle cx="65.7" cy="311.4" r="1.50" fill="#ffff09"/><circle cx="66.7" cy="311.4" r="1.50" fill="#ffff09"/><circle cx="75.0" cy="302.7" r="1.50" fill="#ffff0b"/><circle cx="63.4" cy="313.6" r="1.50" fill="#ffff10"/><circle cx="76.9" cy="299.7" r="1.50" fill="#ffff1f"/><circle cx="64.1" cy="315.6" r="1.50" fill="#ffff23"/><circle cx="72.8" cy="305.2" r="1.50" fill="#ffff26"/><circle cx="78.4" cy="298.6" r="1.50" fill="#ffff29"/><circle cx="58.6" cy="321.8" r="1.50" fill="#ffff30"/><circle cx="69.8" cy="307.6" r="1.50" fill="#ffff30"/><circle cx="58.1" cy="323.1" r="1.50" fill="#ffff33"/><circle cx="72.9" cy="303.6" r="1.50" fill="#ffff33"/><circle cx="74.1" cy="303.6" r="1.50" fill="#ffff37"/><circle cx="69.3" cy="308.3" r="1.50" fill="#ffff39"/><circle cx="77.5" cy="297.4" r="1.50" fill="#ffff3b"/><circle cx="59.8" cy="319.1" r="1.50" fill="#ffff3c"/><circle cx="73.6" cy="304.3" r="1.50" fill="#ffff3e"/><circle cx="50.9" cy="330.9" r="1.50" fill="#ffff3f"/><circle cx="53.6" cy="328.6" r="1.50" fill="#ffff47"/><circle cx="60.9" cy="318.0" r="1.50" fill="#ffff4b"/><circle cx="59.3" cy="320.5" r="1.50" fill="#ffff52"/><circle cx="78.9" cy="297.4" r="1.50" fill="#ffff53"/><circle cx="61.6" cy="318.2" r="1.50" fill="#ffff55"/><circle cx="62.7" cy="316.8" r="1.50" fill="#ffff5f"/><circle cx="69.9" cy="306.7" r="1.50" fill="#ffff61"/><circle cx="67.1" cy="309.6" r="1.50" fill="#ffff63"/><circle cx="76.1" cy="299.4" r="1.50" fill="#ffff66"/><circle cx="58.0" cy="322.1" r="1.50" fill="#ffff72"/><circle cx="53.3" cy="327.6" r="1.50" fill="#ffff80"/><circle cx="74.3" cy="301.7" r="1.50" fill="#ffff81"/><circle cx="55.4" cy="325.3" r="1.50" fill="#ffff85"/><circle cx="54.2" cy="326.7" r="1.50" fill="#ffff87"/><circle cx="58.3" cy="321.6" r="1.50" fill="#ffff87"/><circle cx="71.5" cy="305.2" r="1.50" fill="#ffff89"/><circle cx="68.5" cy="309.2" r="1.50" fill="#ffff8d"/><circle cx="56.8" cy="323.6" r="1.50" fill="#ffff90"/><circle cx="56.1" cy="323.7" r="1.50" fill="#ffff96"/><circle cx="56.3" cy="324.3" r="1.50" fill="#ffff98"/><circle cx="55.5" cy="324.8" r="1.50" fill="#ffff9b"/><circle cx="61.3" cy="317.0" r="1.50" fill="#ffffa0"/></g>
<g clip-path="url(#cb)"><circle cx="210.4" cy="348.8" r="1.90" fill="#0b0000"/><circle cx="256.3" cy="352.0" r="1.90" fill="#0b0000"/><circle cx="201.5" cy="391.6" r="1.90" fill="#0b0000"/><circle cx="179.6" cy="408.9" r="1.90" fill="#0b0000"/><circle cx="183.3" cy="434.6" r="1.90" fill="#0b0000"/><circle cx="278.6" cy="420.6" r="1.90" fill="#0b0000"/><circle cx="140.9" cy="474.6" r="1.90" fill="#0b0000"/><circle cx="113.8" cy="486.3" r="1.90" fill="#0b0000"/><circle cx="79.3" cy="377.5" r="1.90" fill="#0b0000"/><circle cx="112.8" cy="363.2" r="1.90" fill="#0b0000"/><circle cx="108.0" cy="368.8" r="1.90" fill="#0b0000"/><circle cx="120.2" cy="368.8" r="1.90" fill="#0b0000"/><circle cx="110.5" cy="374.8" r="1.90" fill="#0b0000"/><circle cx="121.5" cy="377.5" r="1.90" fill="#0b0000"/><circle cx="90.5" cy="380.0" r="1.90" fill="#0b0000"/><circle cx="112.8" cy="380.0" r="1.90" fill="#0b0000"/><circle cx="133.8" cy="360.3" r="1.90" fill="#0b0000"/><circle cx="145.0" cy="363.2" r="1.90" fill="#0b0000"/><circle cx="125.5" cy="368.8" r="1.90" fill="#0b0000"/><circle cx="140.0" cy="368.8" r="1.90" fill="#0b0000"/><circle cx="147.5" cy="368.8" r="1.90" fill="#0b0000"/><circle cx="125.5" cy="374.5" r="1.90" fill="#0b0000"/><circle cx="131.5" cy="377.5" r="1.90" fill="#0b0000"/><circle cx="149.8" cy="374.5" r="1.90" fill="#0b0000"/><circle cx="153.5" cy="371.5" r="1.90" fill="#0b0000"/><circle cx="153.5" cy="377.5" r="1.90" fill="#0b0000"/><circle cx="156.0" cy="381.5" r="1.90" fill="#0b0000"/><circle cx="177.2" cy="351.8" r="1.90" fill="#0b0000"/><circle cx="174.3" cy="357.3" r="1.90" fill="#0b0000"/><circle cx="175.8" cy="360.5" r="1.90" fill="#0b0000"/><circle cx="173.2" cy="377.5" r="1.90" fill="#0b0000"/><circle cx="74.3" cy="394.3" r="1.90" fill="#0b0000"/><circle cx="85.5" cy="391.5" r="1.90" fill="#0b0000"/><circle cx="80.5" cy="397.5" r="1.90" fill="#0b0000"/><circle cx="82.0" cy="400.0" r="1.90" fill="#0b0000"/><circle cx="75.5" cy="403.0" r="1.90" fill="#0b0000"/><circle cx="77.5" cy="403.0" r="1.90" fill="#0b0000"/><circle cx="79.5" cy="405.0" r="1.90" fill="#0b0000"/><circle cx="65.0" cy="406.0" r="1.90" fill="#0b0000"/><circle cx="67.5" cy="406.0" r="1.90" fill="#0b0000"/><circle cx="87.0" cy="400.0" r="1.90" fill="#0b0000"/><circle cx="58.5" cy="414.5" r="1.90" fill="#0b0000"/><circle cx="79.0" cy="407.0" r="1.90" fill="#0b0000"/><circle cx="103.0" cy="385.5" r="1.90" fill="#0b0000"/><circle cx="101.5" cy="388.5" r="1.90" fill="#0b0000"/><circle cx="102.5" cy="391.5" r="1.90" fill="#0b0000"/><circle cx="94.0" cy="388.5" r="1.90" fill="#0b0000"/><circle cx="95.5" cy="391.5" r="1.90" fill="#0b0000"/><circle cx="110.5" cy="391.5" r="1.90" fill="#0b0000"/><circle cx="114.0" cy="394.0" r="1.90" fill="#0b0000"/><circle cx="121.0" cy="394.5" r="1.90" fill="#0b0000"/><circle cx="91.5" cy="394.5" r="1.90" fill="#0b0000"/><circle cx="91.0" cy="399.5" r="1.90" fill="#0b0000"/><circle cx="92.5" cy="402.0" r="1.90" fill="#0b0000"/><circle cx="95.0" cy="402.0" r="1.90" fill="#0b0000"/><circle cx="97.0" cy="398.0" r="1.90" fill="#0b0000"/><circle cx="99.0" cy="398.0" r="1.90" fill="#0b0000"/><circle cx="101.0" cy="400.0" r="1.90" fill="#0b0000"/><circle cx="102.0" cy="401.0" r="1.90" fill="#0b0000"/><circle cx="115.0" cy="398.0" r="1.90" fill="#0b0000"/><circle cx="116.5" cy="400.5" r="1.90" fill="#0b0000"/><circle cx="105.5" cy="403.0" r="1.90" fill="#0b0000"/><circle cx="112.5" cy="403.0" r="1.90" fill="#0b0000"/><circle cx="111.0" cy="406.0" r="1.90" fill="#0b0000"/><circle cx="115.0" cy="406.0" r="1.90" fill="#0b0000"/><circle cx="118.0" cy="406.0" r="1.90" fill="#0b0000"/><circle cx="121.5" cy="406.0" r="1.90" fill="#0b0000"/><circle cx="98.0" cy="406.0" r="1.90" fill="#0b0000"/><circle cx="101.0" cy="406.0" r="1.90" fill="#0b0000"/><circle cx="97.0" cy="408.0" r="1.90" fill="#0b0000"/><circle cx="103.0" cy="409.0" r="1.90" fill="#0b0000"/><circle cx="95.0" cy="412.0" r="1.90" fill="#0b0000"/><circle cx="105.0" cy="412.0" r="1.90" fill="#0b0000"/><circle cx="108.0" cy="414.0" r="1.90" fill="#0b0000"/><circle cx="91.0" cy="415.0" r="1.90" fill="#0b0000"/><circle cx="98.0" cy="415.0" r="1.90" fill="#0b0000"/><circle cx="111.0" cy="415.0" r="1.90" fill="#0b0000"/><circle cx="114.0" cy="412.0" r="1.90" fill="#0b0000"/><circle cx="122.0" cy="414.0" r="1.90" fill="#0b0000"/><circle cx="127.5" cy="386.0" r="1.90" fill="#0b0000"/><circle cx="131.5" cy="389.0" r="1.90" fill="#0b0000"/><circle cx="136.0" cy="394.5" r="1.90" fill="#0b0000"/><circle cx="145.0" cy="391.5" r="1.90" fill="#0b0000"/><circle cx="152.5" cy="386.0" r="1.90" fill="#0b0000"/><circle cx="156.0" cy="383.0" r="1.90" fill="#0b0000"/><circle cx="151.0" cy="394.5" r="1.90" fill="#0b0000"/><circle cx="126.0" cy="397.5" r="1.90" fill="#0b0000"/><circle cx="127.5" cy="398.0" r="1.90" fill="#0b0000"/><circle cx="140.0" cy="397.5" r="1.90" fill="#0b0000"/><circle cx="136.5" cy="400.5" r="1.90" fill="#0b0000"/><circle cx="153.5" cy="400.5" r="1.90" fill="#0b0000"/><circle cx="132.5" cy="403.0" r="1.90" fill="#0b0000"/><circle cx="149.5" cy="403.0" r="1.90" fill="#0b0000"/><circle cx="126.0" cy="408.5" r="1.90" fill="#0b0000"/><circle cx="135.0" cy="408.5" r="1.90" fill="#0b0000"/><circle cx="140.0" cy="408.5" r="1.90" fill="#0b0000"/><circle cx="147.0" cy="408.5" r="1.90" fill="#0b0000"/><circle cx="152.5" cy="408.5" r="1.90" fill="#0b0000"/><circle cx="129.0" cy="411.5" r="1.90" fill="#0b0000"/><circle cx="146.0" cy="411.5" r="1.90" fill="#0b0000"/><circle cx="156.0" cy="411.0" r="1.90" fill="#0b0000"/><circle cx="147.0" cy="414.5" r="1.90" fill="#0b0000"/><circle cx="134.0" cy="416.5" r="1.90" fill="#0b0000"/><circle cx="163.5" cy="389.0" r="1.90" fill="#0b0000"/><circle cx="163.5" cy="394.5" r="1.90" fill="#0b0000"/><circle cx="158.5" cy="394.5" r="1.90" fill="#0b0000"/><circle cx="160.0" cy="397.5" r="1.90" fill="#0b0000"/><circle cx="160.0" cy="403.0" r="1.90" fill="#0b0000"/><circle cx="179.5" cy="409.0" r="1.90" fill="#0b0000"/><circle cx="169.5" cy="414.0" r="1.90" fill="#0b0000"/><circle cx="171.0" cy="416.0" r="1.90" fill="#0b0000"/><circle cx="166.0" cy="416.5" r="1.90" fill="#0b0000"/><circle cx="112.0" cy="418.0" r="1.90" fill="#0b0000"/><circle cx="115.0" cy="419.0" r="1.90" fill="#0b0000"/><circle cx="118.0" cy="418.0" r="1.90" fill="#0b0000"/><circle cx="121.0" cy="419.0" r="1.90" fill="#0b0000"/><circle cx="97.0" cy="424.0" r="1.90" fill="#0b0000"/><circle cx="122.0" cy="425.0" r="1.90" fill="#0b0000"/><circle cx="98.0" cy="432.0" r="1.90" fill="#0b0000"/><circle cx="103.0" cy="431.0" r="1.90" fill="#0b0000"/><circle cx="107.0" cy="432.0" r="1.90" fill="#0b0000"/><circle cx="116.0" cy="431.0" r="1.90" fill="#0b0000"/><circle cx="120.0" cy="432.0" r="1.90" fill="#0b0000"/><circle cx="96.0" cy="434.0" r="1.90" fill="#0b0000"/><circle cx="100.0" cy="435.0" r="1.90" fill="#0b0000"/><circle cx="105.0" cy="435.0" r="1.90" fill="#0b0000"/><circle cx="109.0" cy="434.0" r="1.90" fill="#0b0000"/><circle cx="113.0" cy="435.0" r="1.90" fill="#0b0000"/><circle cx="117.0" cy="434.5" r="1.90" fill="#0b0000"/><circle cx="121.5" cy="435.0" r="1.90" fill="#0b0000"/><circle cx="102.0" cy="438.0" r="1.90" fill="#0b0000"/><circle cx="107.0" cy="438.5" r="1.90" fill="#0b0000"/><circle cx="112.0" cy="438.0" r="1.90" fill="#0b0000"/><circle cx="118.0" cy="438.0" r="1.90" fill="#0b0000"/><circle cx="91.0" cy="442.0" r="1.90" fill="#0b0000"/><circle cx="98.0" cy="441.0" r="1.90" fill="#0b0000"/><circle cx="103.0" cy="443.0" r="1.90" fill="#0b0000"/><circle cx="109.0" cy="441.5" r="1.90" fill="#0b0000"/><circle cx="114.0" cy="442.0" r="1.90" fill="#0b0000"/><circle cx="119.0" cy="442.5" r="1.90" fill="#0b0000"/><circle cx="104.0" cy="446.0" r="1.90" fill="#0b0000"/><circle cx="111.0" cy="445.0" r="1.90" fill="#0b0000"/><circle cx="118.0" cy="446.0" r="1.90" fill="#0b0000"/><circle cx="91.0" cy="448.0" r="1.90" fill="#0b0000"/><circle cx="94.0" cy="449.0" r="1.90" fill="#0b0000"/><circle cx="110.0" cy="449.0" r="1.90" fill="#0b0000"/><circle cx="115.0" cy="449.0" r="1.90" fill="#0b0000"/><circle cx="121.0" cy="449.0" r="1.90" fill="#0b0000"/><circle cx="101.0" cy="451.0" r="1.90" fill="#0b0000"/><circle cx="113.0" cy="451.5" r="1.90" fill="#0b0000"/><circle cx="117.0" cy="451.5" r="1.90" fill="#0b0000"/><circle cx="127.0" cy="418.0" r="1.90" fill="#0b0000"/><circle cx="156.0" cy="418.0" r="1.90" fill="#0b0000"/><circle cx="130.0" cy="421.0" r="1.90" fill="#0b0000"/><circle cx="142.0" cy="420.0" r="1.90" fill="#0b0000"/><circle cx="144.5" cy="420.0" r="1.90" fill="#0b0000"/><circle cx="147.5" cy="420.0" r="1.90" fill="#0b0000"/><circle cx="129.0" cy="424.0" r="1.90" fill="#0b0000"/><circle cx="138.0" cy="426.0" r="1.90" fill="#0b0000"/><circle cx="140.5" cy="426.0" r="1.90" fill="#0b0000"/><circle cx="145.0" cy="425.0" r="1.90" fill="#0b0000"/><circle cx="150.0" cy="425.0" r="1.90" fill="#0b0000"/><circle cx="130.0" cy="428.0" r="1.90" fill="#0b0000"/><circle cx="144.0" cy="428.0" r="1.90" fill="#0b0000"/><circle cx="151.0" cy="429.0" r="1.90" fill="#0b0000"/><circle cx="126.0" cy="432.0" r="1.90" fill="#0b0000"/><circle cx="139.0" cy="433.0" r="1.90" fill="#0b0000"/><circle cx="132.5" cy="437.5" r="1.90" fill="#0b0000"/><circle cx="136.0" cy="440.5" r="1.90" fill="#0b0000"/><circle cx="127.5" cy="443.5" r="1.90" fill="#0b0000"/><circle cx="124.0" cy="450.0" r="1.90" fill="#0b0000"/><circle cx="124.0" cy="423.0" r="1.90" fill="#0b0000"/><circle cx="161.0" cy="423.0" r="1.90" fill="#0b0000"/><circle cx="159.0" cy="426.0" r="1.90" fill="#0b0000"/><circle cx="183.5" cy="434.8" r="1.90" fill="#0b0000"/><circle cx="56.0" cy="454.5" r="1.90" fill="#0b0000"/><circle cx="59.0" cy="459.5" r="1.90" fill="#0b0000"/><circle cx="64.0" cy="457.5" r="1.90" fill="#0b0000"/><circle cx="71.0" cy="459.5" r="1.90" fill="#0b0000"/><circle cx="74.0" cy="459.0" r="1.90" fill="#0b0000"/><circle cx="76.5" cy="459.5" r="1.90" fill="#0b0000"/><circle cx="75.0" cy="456.5" r="1.90" fill="#0b0000"/><circle cx="78.0" cy="455.0" r="1.90" fill="#0b0000"/><circle cx="84.0" cy="457.5" r="1.90" fill="#0b0000"/><circle cx="86.0" cy="459.5" r="1.90" fill="#0b0000"/><circle cx="61.0" cy="464.0" r="1.90" fill="#0b0000"/><circle cx="66.0" cy="463.0" r="1.90" fill="#0b0000"/><circle cx="69.0" cy="463.0" r="1.90" fill="#0b0000"/><circle cx="76.0" cy="466.0" r="1.90" fill="#0b0000"/><circle cx="72.0" cy="469.0" r="1.90" fill="#0b0000"/><circle cx="81.0" cy="465.0" r="1.90" fill="#0b0000"/><circle cx="83.0" cy="466.0" r="1.90" fill="#0b0000"/><circle cx="61.0" cy="471.0" r="1.90" fill="#0b0000"/><circle cx="63.0" cy="472.0" r="1.90" fill="#0b0000"/><circle cx="61.0" cy="475.0" r="1.90" fill="#0b0000"/><circle cx="60.0" cy="477.5" r="1.90" fill="#0b0000"/><circle cx="67.0" cy="474.5" r="1.90" fill="#0b0000"/><circle cx="69.5" cy="474.5" r="1.90" fill="#0b0000"/><circle cx="72.0" cy="474.5" r="1.90" fill="#0b0000"/><circle cx="78.0" cy="471.0" r="1.90" fill="#0b0000"/><circle cx="79.0" cy="474.0" r="1.90" fill="#0b0000"/><circle cx="81.0" cy="477.0" r="1.90" fill="#0b0000"/><circle cx="83.0" cy="476.5" r="1.90" fill="#0b0000"/><circle cx="86.0" cy="472.0" r="1.90" fill="#0b0000"/><circle cx="86.0" cy="476.0" r="1.90" fill="#0b0000"/><circle cx="65.5" cy="482.5" r="1.90" fill="#0b0000"/><circle cx="74.5" cy="484.5" r="1.90" fill="#0b0000"/><circle cx="87.0" cy="481.0" r="1.90" fill="#0b0000"/><circle cx="101.0" cy="452.5" r="1.90" fill="#0b0000"/><circle cx="108.0" cy="453.0" r="1.90" fill="#0b0000"/><circle cx="112.0" cy="453.0" r="1.90" fill="#0b0000"/><circle cx="92.0" cy="457.5" r="1.90" fill="#0b0000"/><circle cx="101.0" cy="457.0" r="1.90" fill="#0b0000"/><circle cx="102.5" cy="459.5" r="1.90" fill="#0b0000"/><circle cx="108.0" cy="456.0" r="1.90" fill="#0b0000"/><circle cx="109.5" cy="459.0" r="1.90" fill="#0b0000"/><circle cx="113.0" cy="456.0" r="1.90" fill="#0b0000"/><circle cx="114.5" cy="459.0" r="1.90" fill="#0b0000"/><circle cx="115.5" cy="461.0" r="1.90" fill="#0b0000"/><circle cx="91.0" cy="466.0" r="1.90" fill="#0b0000"/><circle cx="93.0" cy="466.0" r="1.90" fill="#0b0000"/><circle cx="95.5" cy="466.0" r="1.90" fill="#0b0000"/><circle cx="95.5" cy="471.5" r="1.90" fill="#0b0000"/><circle cx="94.0" cy="474.0" r="1.90" fill="#0b0000"/><circle cx="92.5" cy="477.5" r="1.90" fill="#0b0000"/><circle cx="108.0" cy="471.5" r="1.90" fill="#0b0000"/><circle cx="100.5" cy="477.5" r="1.90" fill="#0b0000"/><circle cx="105.5" cy="483.0" r="1.90" fill="#0b0000"/><circle cx="114.0" cy="485.5" r="1.90" fill="#0b0000"/><circle cx="65.5" cy="488.5" r="1.90" fill="#0b0000"/><circle cx="71.0" cy="489.0" r="1.90" fill="#0b0000"/><circle cx="67.0" cy="490.5" r="1.90" fill="#0b0000"/><circle cx="76.0" cy="490.0" r="1.90" fill="#0b0000"/><circle cx="77.0" cy="492.5" r="1.90" fill="#0b0000"/><circle cx="81.0" cy="490.0" r="1.90" fill="#0b0000"/><circle cx="82.0" cy="492.0" r="1.90" fill="#0b0000"/><circle cx="61.0" cy="495.0" r="1.90" fill="#0b0000"/><circle cx="64.0" cy="496.0" r="1.90" fill="#0b0000"/><circle cx="69.0" cy="496.0" r="1.90" fill="#0b0000"/><circle cx="71.0" cy="498.0" r="1.90" fill="#0b0000"/><circle cx="73.0" cy="498.5" r="1.90" fill="#0b0000"/><circle cx="76.0" cy="496.0" r="1.90" fill="#0b0000"/><circle cx="78.5" cy="497.5" r="1.90" fill="#0b0000"/><circle cx="81.0" cy="497.5" r="1.90" fill="#0b0000"/><circle cx="65.0" cy="502.0" r="1.90" fill="#0b0000"/><circle cx="68.0" cy="501.5" r="1.90" fill="#0b0000"/><circle cx="69.5" cy="504.0" r="1.90" fill="#0b0000"/><circle cx="65.0" cy="506.0" r="1.90" fill="#0b0000"/><circle cx="70.0" cy="508.5" r="1.90" fill="#0b0000"/><circle cx="76.0" cy="506.0" r="1.90" fill="#0b0000"/><circle cx="83.0" cy="504.0" r="1.90" fill="#0b0000"/><circle cx="85.0" cy="502.0" r="1.90" fill="#0b0000"/><circle cx="86.0" cy="506.0" r="1.90" fill="#0b0000"/><circle cx="83.0" cy="506.5" r="1.90" fill="#0b0000"/><circle cx="93.0" cy="494.5" r="1.90" fill="#0b0000"/><circle cx="93.0" cy="500.0" r="1.90" fill="#0b0000"/><circle cx="106.5" cy="491.5" r="1.90" fill="#0b0000"/><circle cx="101.5" cy="497.5" r="1.90" fill="#0b0000"/><circle cx="105.5" cy="500.5" r="1.90" fill="#0b0000"/><circle cx="108.0" cy="503.0" r="1.90" fill="#0b0000"/><circle cx="111.0" cy="503.0" r="1.90" fill="#0b0000"/><circle cx="113.5" cy="503.0" r="1.90" fill="#0b0000"/><circle cx="105.5" cy="506.0" r="1.90" fill="#0b0000"/><circle cx="99.5" cy="508.5" r="1.90" fill="#0b0000"/><circle cx="85.0" cy="424.0" r="1.90" fill="#0b0000"/><circle cx="80.4" cy="429.7" r="1.90" fill="#0b0000"/><circle cx="87.3" cy="434.3" r="1.90" fill="#0b0000"/><circle cx="79.3" cy="437.7" r="1.90" fill="#0b0000"/><circle cx="87.3" cy="441.0" r="1.90" fill="#0b0000"/><circle cx="75.9" cy="445.7" r="1.90" fill="#0b0000"/><circle cx="81.6" cy="448.0" r="1.90" fill="#0b0000"/><circle cx="70.1" cy="443.4" r="1.90" fill="#0b0000"/><circle cx="73.6" cy="442.3" r="1.90" fill="#0b0000"/><circle cx="67.9" cy="446.9" r="1.90" fill="#0b0000"/><circle cx="72.4" cy="449.1" r="1.90" fill="#0b0000"/><circle cx="86.0" cy="419.0" r="1.90" fill="#0b0000"/><circle cx="88.0" cy="425.0" r="1.90" fill="#0b0000"/><circle cx="80.0" cy="433.0" r="1.90" fill="#0b0000"/><circle cx="76.0" cy="440.0" r="1.90" fill="#0b0000"/><circle cx="69.0" cy="442.0" r="1.90" fill="#0b0000"/><circle cx="201.5" cy="420.6" r="1.90" fill="#390000"/><circle cx="85.0" cy="402.5" r="1.90" fill="#390000"/><circle cx="62.0" cy="411.5" r="1.90" fill="#390000"/><circle cx="66.0" cy="412.0" r="1.90" fill="#390000"/><circle cx="69.0" cy="411.0" r="1.90" fill="#390000"/><circle cx="76.0" cy="408.0" r="1.90" fill="#390000"/><circle cx="92.0" cy="406.0" r="1.90" fill="#760000"/><circle cx="95.0" cy="406.0" r="1.90" fill="#760000"/><circle cx="104.0" cy="406.0" r="1.90" fill="#760000"/><circle cx="94.0" cy="409.0" r="1.90" fill="#760000"/><circle cx="100.0" cy="408.5" r="1.90" fill="#760000"/><circle cx="106.0" cy="408.0" r="1.90" fill="#760000"/><circle cx="92.0" cy="412.0" r="1.90" fill="#760000"/><circle cx="99.0" cy="412.0" r="1.90" fill="#760000"/><circle cx="102.0" cy="412.0" r="1.90" fill="#760000"/><circle cx="94.0" cy="415.0" r="1.90" fill="#760000"/><circle cx="102.0" cy="415.0" r="1.90" fill="#760000"/><circle cx="116.0" cy="414.0" r="1.90" fill="#760000"/><circle cx="118.0" cy="412.0" r="1.90" fill="#760000"/><circle cx="121.0" cy="410.0" r="1.90" fill="#760000"/><circle cx="136.0" cy="389.0" r="1.90" fill="#390000"/><circle cx="133.5" cy="394.5" r="1.90" fill="#390000"/><circle cx="151.5" cy="400.0" r="1.90" fill="#390000"/><circle cx="133.5" cy="411.5" r="1.90" fill="#390000"/><circle cx="131.0" cy="416.5" r="1.90" fill="#390000"/><circle cx="123.5" cy="411.0" r="1.90" fill="#390000"/><circle cx="94.0" cy="418.5" r="1.90" fill="#760000"/><circle cx="101.0" cy="419.0" r="1.90" fill="#760000"/><circle cx="105.0" cy="418.0" r="1.90" fill="#760000"/><circle cx="108.0" cy="419.0" r="1.90" fill="#760000"/><circle cx="102.0" cy="422.0" r="1.90" fill="#760000"/><circle cx="110.0" cy="421.5" r="1.90" fill="#760000"/><circle cx="114.0" cy="421.0" r="1.90" fill="#760000"/><circle cx="117.0" cy="422.0" r="1.90" fill="#760000"/><circle cx="121.0" cy="421.0" r="1.90" fill="#760000"/><circle cx="94.0" cy="425.0" r="1.90" fill="#760000"/><circle cx="103.0" cy="424.0" r="1.90" fill="#760000"/><circle cx="107.0" cy="425.0" r="1.90" fill="#760000"/><circle cx="111.0" cy="424.0" r="1.90" fill="#760000"/><circle cx="119.0" cy="424.0" r="1.90" fill="#760000"/><circle cx="96.0" cy="428.5" r="1.90" fill="#760000"/><circle cx="101.0" cy="427.0" r="1.90" fill="#760000"/><circle cx="105.0" cy="428.0" r="1.90" fill="#760000"/><circle cx="113.0" cy="428.0" r="1.90" fill="#760000"/><circle cx="117.0" cy="428.0" r="1.90" fill="#760000"/><circle cx="121.0" cy="428.0" r="1.90" fill="#760000"/><circle cx="91.0" cy="431.0" r="1.90" fill="#760000"/><circle cx="95.0" cy="431.0" r="1.90" fill="#760000"/><circle cx="111.0" cy="431.0" r="1.90" fill="#760000"/><circle cx="92.0" cy="434.5" r="1.90" fill="#760000"/><circle cx="92.0" cy="438.0" r="1.90" fill="#760000"/><circle cx="97.0" cy="438.0" r="1.90" fill="#760000"/><circle cx="93.0" cy="445.0" r="1.90" fill="#760000"/><circle cx="133.0" cy="418.0" r="1.90" fill="#760000"/><circle cx="133.0" cy="421.0" r="1.90" fill="#760000"/><circle cx="136.0" cy="421.0" r="1.90" fill="#760000"/><circle cx="132.0" cy="425.0" r="1.90" fill="#760000"/><circle cx="135.0" cy="424.0" r="1.90" fill="#760000"/><circle cx="126.0" cy="428.0" r="1.90" fill="#760000"/><circle cx="137.0" cy="428.0" r="1.90" fill="#760000"/><circle cx="140.0" cy="429.0" r="1.90" fill="#760000"/><circle cx="129.0" cy="432.0" r="1.90" fill="#760000"/><circle cx="137.0" cy="432.0" r="1.90" fill="#760000"/><circle cx="139.0" cy="435.5" r="1.90" fill="#760000"/><circle cx="127.5" cy="437.5" r="1.90" fill="#760000"/><circle cx="87.0" cy="456.0" r="1.90" fill="#390000"/><circle cx="58.5" cy="465.0" r="1.90" fill="#390000"/><circle cx="59.0" cy="463.0" r="1.90" fill="#390000"/><circle cx="73.0" cy="466.0" r="1.90" fill="#390000"/><circle cx="79.0" cy="463.0" r="1.90" fill="#390000"/><circle cx="83.0" cy="483.0" r="1.90" fill="#390000"/><circle cx="85.0" cy="485.0" r="1.90" fill="#390000"/><circle cx="96.0" cy="457.0" r="1.90" fill="#390000"/><circle cx="110.5" cy="461.0" r="1.90" fill="#390000"/><circle cx="60.0" cy="491.5" r="1.90" fill="#390000"/><circle cx="62.0" cy="492.0" r="1.90" fill="#390000"/><circle cx="62.5" cy="499.0" r="1.90" fill="#390000"/><circle cx="61.0" cy="501.0" r="1.90" fill="#390000"/><circle cx="59.0" cy="504.0" r="1.90" fill="#390000"/><circle cx="57.0" cy="506.5" r="1.90" fill="#390000"/><circle cx="56.0" cy="508.5" r="1.90" fill="#390000"/><circle cx="85.0" cy="494.0" r="1.90" fill="#390000"/><circle cx="93.0" cy="489.0" r="1.90" fill="#390000"/><circle cx="109.0" cy="497.5" r="1.90" fill="#390000"/><circle cx="81.6" cy="421.7" r="1.90" fill="#390000"/><circle cx="83.9" cy="432.0" r="1.90" fill="#390000"/><circle cx="82.7" cy="440.0" r="1.90" fill="#390000"/><circle cx="90.7" cy="437.7" r="1.90" fill="#390000"/><circle cx="88.4" cy="446.9" r="1.90" fill="#390000"/><circle cx="82.0" cy="417.0" r="1.90" fill="#390000"/><circle cx="84.0" cy="423.0" r="1.90" fill="#390000"/><circle cx="86.0" cy="430.0" r="1.90" fill="#390000"/><circle cx="84.0" cy="436.0" r="1.90" fill="#390000"/><circle cx="72.0" cy="438.0" r="1.90" fill="#390000"/><circle cx="77.0" cy="435.0" r="1.90" fill="#390000"/><circle cx="73.0" cy="409.0" r="1.90" fill="#c60000"/><circle cx="86.0" cy="407.0" r="1.90" fill="#c60000"/><circle cx="91.0" cy="409.0" r="1.90" fill="#c60000"/><circle cx="91.0" cy="418.0" r="1.90" fill="#c60000"/><circle cx="97.0" cy="418.0" r="1.90" fill="#c60000"/><circle cx="90.0" cy="421.0" r="1.90" fill="#c60000"/><circle cx="93.0" cy="421.5" r="1.90" fill="#c60000"/><circle cx="99.0" cy="421.0" r="1.90" fill="#c60000"/><circle cx="106.0" cy="421.0" r="1.90" fill="#c60000"/><circle cx="91.0" cy="424.5" r="1.90" fill="#c60000"/><circle cx="100.0" cy="425.0" r="1.90" fill="#c60000"/><circle cx="115.0" cy="425.0" r="1.90" fill="#c60000"/><circle cx="90.0" cy="428.0" r="1.90" fill="#c60000"/><circle cx="93.0" cy="428.0" r="1.90" fill="#c60000"/><circle cx="109.0" cy="428.0" r="1.90" fill="#c60000"/><circle cx="62.0" cy="458.5" r="1.90" fill="#c60000"/><circle cx="83.9" cy="427.4" r="1.90" fill="#c60000"/><circle cx="88.4" cy="430.9" r="1.90" fill="#c60000"/><circle cx="82.0" cy="428.0" r="1.90" fill="#c60000"/><circle cx="79.0" cy="424.0" r="1.90" fill="#c60000"/><circle cx="60.5" cy="456.5" r="1.90" fill="#ff1700"/><circle cx="83.7" cy="424.7" r="2.00" fill="#2b0000"/><circle cx="63.3" cy="452.5" r="2.00" fill="#2d0000"/><circle cx="79.6" cy="402.6" r="2.00" fill="#2e0000"/><circle cx="65.3" cy="446.3" r="2.00" fill="#330000"/><circle cx="72.8" cy="437.5" r="2.00" fill="#350000"/><circle cx="72.6" cy="405.9" r="2.00" fill="#370000"/><circle cx="82.9" cy="402.6" r="2.00" fill="#3e0000"/><circle cx="78.8" cy="432.4" r="2.00" fill="#3f0000"/><circle cx="76.5" cy="435.1" r="2.00" fill="#400000"/><circle cx="70.9" cy="406.4" r="2.00" fill="#410000"/><circle cx="65.4" cy="409.1" r="2.00" fill="#420000"/><circle cx="50.4" cy="442.2" r="2.00" fill="#430000"/><circle cx="69.6" cy="407.5" r="2.00" fill="#440000"/><circle cx="66.1" cy="445.1" r="2.00" fill="#440000"/><circle cx="51.1" cy="449.3" r="2.00" fill="#440000"/><circle cx="87.1" cy="414.8" r="2.00" fill="#450000"/><circle cx="81.0" cy="421.5" r="2.00" fill="#460000"/><circle cx="78.7" cy="404.0" r="2.00" fill="#480000"/><circle cx="63.0" cy="410.9" r="2.00" fill="#4c0000"/><circle cx="62.9" cy="447.8" r="2.00" fill="#4d0000"/><circle cx="69.0" cy="437.3" r="2.00" fill="#4d0000"/><circle cx="51.3" cy="446.8" r="2.00" fill="#4e0000"/><circle cx="85.2" cy="414.8" r="2.00" fill="#4f0000"/><circle cx="62.8" cy="413.6" r="2.00" fill="#500000"/><circle cx="87.8" cy="413.2" r="2.00" fill="#510000"/><circle cx="63.4" cy="449.8" r="2.00" fill="#520000"/><circle cx="90.7" cy="403.0" r="2.00" fill="#530000"/><circle cx="76.3" cy="421.2" r="2.00" fill="#530000"/><circle cx="87.2" cy="405.9" r="2.00" fill="#540000"/><circle cx="59.6" cy="455.4" r="2.00" fill="#550000"/><circle cx="89.0" cy="409.5" r="2.00" fill="#580000"/><circle cx="66.3" cy="438.5" r="2.00" fill="#5b0000"/><circle cx="54.5" cy="452.5" r="2.00" fill="#5b0000"/><circle cx="57.4" cy="417.2" r="2.00" fill="#5c0000"/><circle cx="65.2" cy="440.2" r="2.00" fill="#5c0000"/><circle cx="87.5" cy="404.1" r="2.00" fill="#5e0000"/><circle cx="76.3" cy="430.6" r="2.00" fill="#5e0000"/><circle cx="78.9" cy="422.8" r="2.00" fill="#5e0000"/><circle cx="57.9" cy="453.0" r="2.00" fill="#5f0000"/><circle cx="87.0" cy="402.5" r="2.00" fill="#5f0000"/><circle cx="82.3" cy="404.0" r="2.00" fill="#600000"/><circle cx="54.1" cy="420.2" r="2.00" fill="#600000"/><circle cx="54.3" cy="440.5" r="2.00" fill="#610000"/><circle cx="71.8" cy="407.3" r="2.00" fill="#620000"/><circle cx="84.9" cy="403.1" r="2.00" fill="#620000"/><circle cx="78.1" cy="430.4" r="2.00" fill="#630000"/><circle cx="81.1" cy="430.8" r="2.00" fill="#640000"/><circle cx="82.8" cy="417.0" r="2.00" fill="#650000"/><circle cx="73.6" cy="407.7" r="2.00" fill="#660000"/><circle cx="63.1" cy="446.7" r="2.00" fill="#660000"/><circle cx="55.8" cy="445.2" r="2.00" fill="#6a0000"/><circle cx="80.2" cy="426.3" r="2.00" fill="#6b0000"/><circle cx="56.8" cy="454.3" r="2.00" fill="#6b0000"/><circle cx="61.4" cy="415.0" r="2.00" fill="#6c0000"/><circle cx="61.1" cy="454.4" r="2.00" fill="#6c0000"/><circle cx="82.8" cy="413.6" r="2.00" fill="#6c0000"/><circle cx="57.1" cy="448.2" r="2.00" fill="#6c0000"/><circle cx="61.2" cy="445.2" r="2.00" fill="#6d0000"/><circle cx="54.6" cy="421.6" r="2.00" fill="#6d0000"/><circle cx="63.3" cy="418.3" r="2.00" fill="#6d0000"/><circle cx="63.9" cy="412.5" r="2.00" fill="#6f0000"/><circle cx="49.7" cy="448.4" r="2.00" fill="#6f0000"/><circle cx="77.4" cy="427.5" r="2.00" fill="#700000"/><circle cx="79.7" cy="418.0" r="2.00" fill="#700000"/><circle cx="85.3" cy="406.3" r="2.00" fill="#710000"/><circle cx="60.4" cy="441.5" r="2.00" fill="#720000"/><circle cx="89.1" cy="407.8" r="2.00" fill="#750000"/><circle cx="84.4" cy="403.9" r="2.00" fill="#760000"/><circle cx="91.7" cy="410.7" r="2.00" fill="#760000"/><circle cx="88.7" cy="406.2" r="2.00" fill="#770000"/><circle cx="51.0" cy="421.0" r="2.00" fill="#770000"/><circle cx="79.8" cy="425.0" r="2.00" fill="#780000"/><circle cx="86.8" cy="412.3" r="2.00" fill="#790000"/><circle cx="61.5" cy="418.0" r="2.00" fill="#790000"/><circle cx="71.2" cy="436.6" r="2.00" fill="#790000"/><circle cx="53.2" cy="453.0" r="2.00" fill="#7a0000"/><circle cx="61.0" cy="448.3" r="2.00" fill="#7a0000"/><circle cx="75.1" cy="407.5" r="2.00" fill="#7a0000"/><circle cx="52.1" cy="441.7" r="2.00" fill="#7d0000"/><circle cx="78.4" cy="421.0" r="2.00" fill="#7d0000"/><circle cx="53.8" cy="442.0" r="2.00" fill="#7f0000"/><circle cx="58.1" cy="449.9" r="2.00" fill="#7f0000"/><circle cx="80.7" cy="407.3" r="2.00" fill="#800000"/><circle cx="75.0" cy="432.5" r="2.00" fill="#800000"/><circle cx="61.7" cy="452.2" r="2.00" fill="#800000"/><circle cx="72.4" cy="418.6" r="2.00" fill="#830000"/><circle cx="52.3" cy="447.8" r="2.00" fill="#830000"/><circle cx="61.2" cy="451.2" r="2.00" fill="#840000"/><circle cx="63.3" cy="415.0" r="2.00" fill="#850000"/><circle cx="84.0" cy="413.8" r="2.00" fill="#860000"/><circle cx="60.0" cy="449.9" r="2.00" fill="#860000"/><circle cx="83.6" cy="406.0" r="2.00" fill="#860000"/><circle cx="65.6" cy="412.0" r="2.00" fill="#870000"/><circle cx="60.0" cy="439.9" r="2.00" fill="#870000"/><circle cx="59.0" cy="451.4" r="2.00" fill="#880000"/><circle cx="62.1" cy="446.7" r="2.00" fill="#880000"/><circle cx="82.0" cy="427.4" r="2.00" fill="#8a0000"/><circle cx="76.6" cy="407.6" r="2.00" fill="#8b0000"/><circle cx="66.9" cy="412.1" r="2.00" fill="#8c0000"/><circle cx="77.4" cy="419.9" r="2.00" fill="#8f0000"/><circle cx="56.5" cy="446.3" r="2.00" fill="#8f0000"/><circle cx="68.8" cy="411.7" r="2.00" fill="#900000"/><circle cx="55.0" cy="450.8" r="2.00" fill="#910000"/><circle cx="63.4" cy="440.5" r="2.00" fill="#920000"/><circle cx="57.4" cy="450.8" r="2.00" fill="#920000"/><circle cx="67.8" cy="413.9" r="2.00" fill="#920000"/><circle cx="55.0" cy="420.3" r="2.00" fill="#930000"/><circle cx="78.2" cy="418.1" r="2.00" fill="#930000"/><circle cx="53.2" cy="451.5" r="2.00" fill="#930000"/><circle cx="79.2" cy="421.8" r="2.00" fill="#950000"/><circle cx="62.8" cy="451.4" r="2.00" fill="#960000"/><circle cx="86.2" cy="414.2" r="2.00" fill="#970000"/><circle cx="83.4" cy="415.2" r="2.00" fill="#980000"/><circle cx="86.6" cy="409.1" r="2.00" fill="#980000"/><circle cx="51.5" cy="445.2" r="2.00" fill="#980000"/><circle cx="50.2" cy="423.1" r="2.00" fill="#9b0000"/><circle cx="56.3" cy="452.5" r="2.00" fill="#9b0000"/><circle cx="90.7" cy="405.4" r="2.00" fill="#9b0000"/><circle cx="75.6" cy="419.9" r="2.00" fill="#9f0000"/><circle cx="81.0" cy="404.8" r="2.00" fill="#a00000"/><circle cx="71.3" cy="435.1" r="2.00" fill="#a00000"/><circle cx="75.9" cy="418.5" r="2.00" fill="#a00000"/><circle cx="74.2" cy="405.8" r="2.00" fill="#a10000"/><circle cx="66.2" cy="413.8" r="2.00" fill="#a20000"/><circle cx="68.8" cy="409.2" r="2.00" fill="#a40000"/><circle cx="61.5" cy="450.0" r="2.00" fill="#a40000"/><circle cx="62.5" cy="417.2" r="2.00" fill="#a50000"/><circle cx="54.8" cy="449.1" r="2.00" fill="#a70000"/><circle cx="61.8" cy="443.6" r="2.00" fill="#a70000"/><circle cx="78.6" cy="419.6" r="2.00" fill="#a80000"/><circle cx="58.6" cy="446.9" r="2.00" fill="#a90000"/><circle cx="73.7" cy="420.3" r="2.00" fill="#a90000"/><circle cx="55.0" cy="447.5" r="2.00" fill="#aa0000"/><circle cx="89.6" cy="410.6" r="2.00" fill="#ab0000"/><circle cx="51.3" cy="443.6" r="2.00" fill="#ad0000"/><circle cx="63.1" cy="444.6" r="2.00" fill="#ae0000"/><circle cx="50.7" cy="440.2" r="2.00" fill="#b30000"/><circle cx="58.2" cy="443.6" r="2.00" fill="#b30000"/><circle cx="85.5" cy="404.5" r="2.00" fill="#b50000"/><circle cx="61.0" cy="419.5" r="2.00" fill="#b50000"/><circle cx="80.2" cy="415.7" r="2.00" fill="#b60000"/><circle cx="60.2" cy="418.7" r="2.00" fill="#b60000"/><circle cx="66.4" cy="410.8" r="2.00" fill="#b70000"/><circle cx="56.2" cy="449.2" r="2.00" fill="#b80000"/><circle cx="85.4" cy="409.4" r="2.00" fill="#b80000"/><circle cx="77.3" cy="417.3" r="2.00" fill="#b80000"/><circle cx="57.2" cy="419.5" r="2.00" fill="#b80000"/><circle cx="64.0" cy="416.7" r="2.00" fill="#b80000"/><circle cx="85.5" cy="412.6" r="2.00" fill="#b90000"/><circle cx="52.3" cy="443.6" r="2.00" fill="#bb0000"/><circle cx="76.2" cy="406.1" r="2.00" fill="#bb0000"/><circle cx="65.1" cy="418.1" r="2.00" fill="#bb0000"/><circle cx="73.9" cy="408.6" r="2.00" fill="#bb0000"/><circle cx="79.8" cy="405.8" r="2.00" fill="#be0000"/><circle cx="77.9" cy="406.2" r="2.00" fill="#be0000"/><circle cx="59.4" cy="443.8" r="2.00" fill="#c20000"/><circle cx="66.5" cy="416.8" r="2.00" fill="#c30000"/><circle cx="65.2" cy="414.9" r="2.00" fill="#c40000"/><circle cx="56.8" cy="441.9" r="2.00" fill="#c40000"/><circle cx="82.6" cy="407.1" r="2.00" fill="#c50000"/><circle cx="52.2" cy="446.9" r="2.00" fill="#c50000"/><circle cx="78.9" cy="417.1" r="2.00" fill="#c70000"/><circle cx="77.0" cy="429.2" r="2.00" fill="#cd0000"/><circle cx="50.1" cy="438.3" r="2.00" fill="#ce0000"/><circle cx="77.7" cy="424.6" r="2.00" fill="#ce0000"/><circle cx="87.6" cy="410.3" r="2.00" fill="#cf0000"/><circle cx="69.8" cy="410.3" r="2.00" fill="#d00000"/><circle cx="72.2" cy="434.2" r="2.00" fill="#d20000"/><circle cx="52.2" cy="449.5" r="2.00" fill="#d40000"/><circle cx="78.8" cy="429.1" r="2.00" fill="#d80000"/><circle cx="76.7" cy="423.5" r="2.00" fill="#da0000"/><circle cx="59.5" cy="441.4" r="2.00" fill="#db0000"/><circle cx="78.7" cy="426.3" r="2.00" fill="#dc0000"/><circle cx="53.5" cy="447.6" r="2.00" fill="#dc0000"/><circle cx="86.0" cy="407.6" r="2.00" fill="#dc0000"/><circle cx="68.1" cy="410.5" r="2.00" fill="#df0000"/><circle cx="70.1" cy="436.0" r="2.00" fill="#e20000"/><circle cx="60.2" cy="446.3" r="2.00" fill="#e30000"/><circle cx="81.9" cy="406.2" r="2.00" fill="#e60000"/><circle cx="54.3" cy="446.8" r="2.00" fill="#e80000"/><circle cx="69.0" cy="418.3" r="2.00" fill="#e90000"/><circle cx="64.3" cy="439.1" r="2.00" fill="#e90000"/><circle cx="52.2" cy="440.6" r="2.00" fill="#e90000"/><circle cx="81.6" cy="415.6" r="2.00" fill="#ef0000"/><circle cx="87.6" cy="407.6" r="2.00" fill="#f10000"/><circle cx="56.8" cy="442.8" r="2.00" fill="#f70000"/><circle cx="70.9" cy="409.3" r="2.00" fill="#f90000"/><circle cx="55.1" cy="441.3" r="2.00" fill="#f90000"/><circle cx="67.1" cy="415.3" r="2.00" fill="#f90000"/><circle cx="59.0" cy="420.4" r="2.00" fill="#fd0000"/><circle cx="84.1" cy="407.1" r="2.00" fill="#fd0000"/><circle cx="54.7" cy="443.2" r="2.00" fill="#fe0000"/><circle cx="70.3" cy="418.7" r="2.00" fill="#ff0000"/><circle cx="62.5" cy="439.0" r="2.00" fill="#ff0300"/><circle cx="53.9" cy="445.0" r="2.00" fill="#ff0300"/><circle cx="72.2" cy="409.4" r="2.00" fill="#ff0400"/><circle cx="58.5" cy="447.9" r="2.00" fill="#ff0600"/><circle cx="83.8" cy="412.2" r="2.00" fill="#ff0c00"/><circle cx="76.7" cy="425.8" r="2.00" fill="#ff0d00"/><circle cx="56.3" cy="440.1" r="2.00" fill="#ff0d00"/><circle cx="86.3" cy="410.8" r="2.00" fill="#ff0f00"/><circle cx="51.5" cy="438.2" r="2.00" fill="#ff1000"/><circle cx="74.3" cy="418.0" r="2.00" fill="#ff1200"/><circle cx="80.1" cy="408.6" r="2.00" fill="#ff1500"/><circle cx="78.1" cy="415.6" r="2.00" fill="#ff1500"/><circle cx="66.8" cy="418.3" r="2.00" fill="#ff1600"/><circle cx="80.5" cy="416.3" r="2.00" fill="#ff1600"/><circle cx="58.0" cy="439.9" r="2.00" fill="#ff1700"/><circle cx="67.5" cy="436.8" r="2.00" fill="#ff1800"/><circle cx="68.3" cy="417.0" r="2.00" fill="#ff1900"/><circle cx="75.2" cy="423.0" r="2.00" fill="#ff1900"/><circle cx="57.3" cy="444.5" r="2.00" fill="#ff1a00"/><circle cx="71.2" cy="416.7" r="2.00" fill="#ff1a00"/><circle cx="71.7" cy="411.0" r="2.00" fill="#ff1b00"/><circle cx="81.8" cy="408.6" r="2.00" fill="#ff2200"/><circle cx="51.8" cy="423.4" r="2.00" fill="#ff2200"/><circle cx="58.5" cy="444.7" r="2.00" fill="#ff2200"/><circle cx="75.8" cy="424.1" r="2.00" fill="#ff2500"/><circle cx="56.0" cy="421.9" r="2.00" fill="#ff2800"/><circle cx="78.9" cy="410.3" r="2.00" fill="#ff2800"/><circle cx="73.6" cy="410.1" r="2.00" fill="#ff2b00"/><circle cx="78.3" cy="407.7" r="2.00" fill="#ff2b00"/><circle cx="72.6" cy="421.1" r="2.00" fill="#ff2c00"/><circle cx="70.2" cy="419.7" r="2.00" fill="#ff2d00"/><circle cx="73.5" cy="432.3" r="2.00" fill="#ff2d00"/><circle cx="83.5" cy="408.8" r="2.00" fill="#ff2d00"/><circle cx="69.7" cy="413.7" r="2.00" fill="#ff3300"/><circle cx="77.5" cy="412.6" r="2.00" fill="#ff3300"/><circle cx="84.1" cy="410.8" r="2.00" fill="#ff3300"/><circle cx="76.0" cy="409.5" r="2.00" fill="#ff3400"/><circle cx="77.8" cy="408.7" r="2.00" fill="#ff3700"/><circle cx="69.1" cy="414.8" r="2.00" fill="#ff3700"/><circle cx="80.5" cy="410.9" r="2.00" fill="#ff3800"/><circle cx="76.1" cy="412.6" r="2.00" fill="#ff3800"/><circle cx="80.8" cy="413.4" r="2.00" fill="#ff3a00"/><circle cx="64.9" cy="437.0" r="2.00" fill="#ff3b00"/><circle cx="81.7" cy="412.5" r="2.00" fill="#ff3b00"/><circle cx="72.2" cy="415.6" r="2.00" fill="#ff3c00"/><circle cx="76.2" cy="428.2" r="2.00" fill="#ff3c00"/><circle cx="50.6" cy="437.4" r="2.00" fill="#ff3c00"/><circle cx="72.1" cy="420.3" r="2.00" fill="#ff3d00"/><circle cx="53.9" cy="439.0" r="2.00" fill="#ff3d00"/><circle cx="76.0" cy="414.9" r="2.00" fill="#ff3d00"/><circle cx="75.0" cy="410.2" r="2.00" fill="#ff4000"/><circle cx="69.8" cy="416.9" r="2.00" fill="#ff4100"/><circle cx="59.4" cy="439.1" r="2.00" fill="#ff4200"/><circle cx="76.8" cy="413.3" r="2.00" fill="#ff4300"/><circle cx="71.3" cy="414.1" r="2.00" fill="#ff4600"/><circle cx="79.5" cy="412.1" r="2.00" fill="#ff4600"/><circle cx="82.8" cy="410.7" r="2.00" fill="#ff4600"/><circle cx="75.3" cy="429.1" r="2.00" fill="#ff4700"/><circle cx="74.7" cy="414.9" r="2.00" fill="#ff4700"/><circle cx="63.0" cy="437.4" r="2.00" fill="#ff4700"/><circle cx="73.0" cy="416.5" r="2.00" fill="#ff4800"/><circle cx="63.1" cy="420.0" r="2.00" fill="#ff4900"/><circle cx="60.4" cy="438.5" r="2.00" fill="#ff4900"/><circle cx="72.3" cy="412.2" r="2.00" fill="#ff4900"/><circle cx="71.1" cy="412.2" r="2.00" fill="#ff4c00"/><circle cx="68.5" cy="435.1" r="2.00" fill="#ff4d00"/><circle cx="78.4" cy="413.7" r="2.00" fill="#ff4f00"/><circle cx="75.5" cy="416.6" r="2.00" fill="#ff5000"/><circle cx="75.5" cy="414.1" r="2.00" fill="#ff5200"/><circle cx="70.4" cy="415.7" r="2.00" fill="#ff5200"/><circle cx="71.2" cy="421.2" r="2.00" fill="#ff5200"/><circle cx="68.0" cy="420.3" r="2.00" fill="#ff5700"/><circle cx="73.0" cy="413.5" r="2.00" fill="#ff5700"/><circle cx="64.4" cy="419.6" r="2.00" fill="#ff5800"/><circle cx="57.9" cy="421.7" r="2.00" fill="#ff5800"/><circle cx="77.0" cy="410.2" r="2.00" fill="#ff5b00"/><circle cx="73.9" cy="422.0" r="2.00" fill="#ff5c00"/><circle cx="74.2" cy="412.4" r="2.00" fill="#ff5d00"/><circle cx="53.7" cy="423.4" r="2.00" fill="#ff6200"/><circle cx="56.9" cy="439.0" r="2.00" fill="#ff6a00"/><circle cx="70.5" cy="433.9" r="2.00" fill="#ff6f00"/><circle cx="55.7" cy="438.2" r="2.00" fill="#ff7200"/><circle cx="59.7" cy="421.5" r="2.00" fill="#ff7700"/><circle cx="73.5" cy="422.9" r="2.00" fill="#ff7b00"/><circle cx="51.3" cy="425.1" r="2.00" fill="#ff7d00"/><circle cx="74.8" cy="425.9" r="2.00" fill="#ff7f00"/><circle cx="73.9" cy="430.8" r="2.00" fill="#ff7f00"/><circle cx="56.3" cy="437.3" r="2.00" fill="#ff8e00"/><circle cx="61.5" cy="436.9" r="2.00" fill="#ff9000"/><circle cx="52.4" cy="437.2" r="2.00" fill="#ff9700"/><circle cx="66.7" cy="420.2" r="2.00" fill="#ff9a00"/><circle cx="49.6" cy="435.3" r="2.00" fill="#ff9d00"/><circle cx="65.2" cy="421.4" r="2.00" fill="#ffa000"/><circle cx="52.3" cy="424.8" r="2.00" fill="#ffa400"/><circle cx="74.0" cy="424.4" r="2.00" fill="#ffa400"/><circle cx="55.2" cy="423.2" r="2.00" fill="#ffa500"/><circle cx="68.7" cy="434.4" r="2.00" fill="#ffa600"/><circle cx="66.5" cy="435.3" r="2.00" fill="#ffb100"/><circle cx="58.6" cy="437.0" r="2.00" fill="#ffb600"/><circle cx="66.9" cy="421.7" r="2.00" fill="#ffbb00"/><circle cx="71.3" cy="432.2" r="2.00" fill="#ffbc00"/><circle cx="62.9" cy="436.0" r="2.00" fill="#ffbc00"/><circle cx="54.0" cy="424.7" r="2.00" fill="#ffbe00"/><circle cx="62.1" cy="422.0" r="2.00" fill="#ffbf00"/><circle cx="69.0" cy="421.7" r="2.00" fill="#ffc000"/><circle cx="73.4" cy="429.2" r="2.00" fill="#ffc300"/><circle cx="64.6" cy="435.9" r="2.00" fill="#ffc600"/><circle cx="63.3" cy="421.9" r="2.00" fill="#ffc600"/><circle cx="50.9" cy="434.2" r="2.00" fill="#ffc600"/><circle cx="71.8" cy="422.7" r="2.00" fill="#ffc800"/><circle cx="71.5" cy="429.1" r="2.00" fill="#ffc800"/><circle cx="54.4" cy="436.7" r="2.00" fill="#ffcb00"/><circle cx="55.5" cy="436.0" r="2.00" fill="#ffcc00"/><circle cx="66.6" cy="422.8" r="2.00" fill="#ffd100"/><circle cx="70.3" cy="430.9" r="2.00" fill="#ffd400"/><circle cx="52.1" cy="426.4" r="2.00" fill="#ffd400"/><circle cx="51.2" cy="431.2" r="2.00" fill="#ffd500"/><circle cx="72.4" cy="430.5" r="2.00" fill="#ffd700"/><circle cx="49.9" cy="426.2" r="2.00" fill="#ffd800"/><circle cx="57.0" cy="435.6" r="2.00" fill="#ffd900"/><circle cx="67.6" cy="432.0" r="2.00" fill="#ffdb00"/><circle cx="71.0" cy="424.8" r="2.00" fill="#ffdb00"/><circle cx="66.7" cy="425.0" r="2.00" fill="#ffdf00"/><circle cx="63.2" cy="433.6" r="2.00" fill="#ffdf00"/><circle cx="55.8" cy="424.3" r="2.00" fill="#ffdf00"/><circle cx="58.8" cy="425.8" r="2.00" fill="#ffe100"/><circle cx="53.6" cy="426.7" r="2.00" fill="#ffe100"/><circle cx="58.2" cy="424.4" r="2.00" fill="#ffe200"/><circle cx="52.2" cy="427.7" r="2.00" fill="#ffe200"/><circle cx="65.2" cy="434.2" r="2.00" fill="#ffe200"/><circle cx="73.4" cy="426.2" r="2.00" fill="#ffe400"/><circle cx="69.4" cy="428.9" r="2.00" fill="#ffe600"/><circle cx="60.1" cy="433.7" r="2.00" fill="#ffe700"/><circle cx="72.3" cy="427.3" r="2.00" fill="#ffe800"/><circle cx="59.4" cy="423.3" r="2.00" fill="#ffea00"/><circle cx="62.1" cy="423.3" r="2.00" fill="#ffea00"/><circle cx="61.5" cy="424.5" r="2.00" fill="#ffeb00"/><circle cx="53.5" cy="429.7" r="2.00" fill="#ffec00"/><circle cx="63.6" cy="424.9" r="2.00" fill="#ffef00"/><circle cx="66.9" cy="430.5" r="2.00" fill="#fff100"/><circle cx="52.0" cy="432.4" r="2.00" fill="#fff300"/><circle cx="50.3" cy="432.5" r="2.00" fill="#fff300"/><circle cx="52.8" cy="430.7" r="2.00" fill="#fff600"/><circle cx="64.0" cy="430.5" r="2.00" fill="#fff700"/><circle cx="59.3" cy="429.2" r="2.00" fill="#fff800"/><circle cx="57.6" cy="422.8" r="2.00" fill="#fff900"/><circle cx="51.3" cy="429.0" r="2.00" fill="#fffa00"/><circle cx="64.8" cy="429.5" r="2.00" fill="#fffa00"/><circle cx="68.4" cy="425.8" r="2.00" fill="#fffa00"/><circle cx="60.6" cy="426.3" r="2.00" fill="#fffb00"/><circle cx="55.0" cy="431.9" r="2.00" fill="#fffc00"/><circle cx="65.8" cy="432.5" r="2.00" fill="#fffc00"/><circle cx="68.7" cy="424.5" r="2.00" fill="#fffe00"/><circle cx="61.4" cy="430.5" r="2.00" fill="#fffe00"/><circle cx="65.8" cy="429.8" r="2.00" fill="#fffe00"/><circle cx="57.5" cy="428.9" r="2.00" fill="#ffff03"/><circle cx="60.3" cy="424.4" r="2.00" fill="#ffff05"/><circle cx="71.6" cy="426.1" r="2.00" fill="#ffff05"/><circle cx="50.9" cy="428.2" r="2.00" fill="#ffff0a"/><circle cx="53.9" cy="432.2" r="2.00" fill="#ffff0b"/><circle cx="72.7" cy="424.2" r="2.00" fill="#ffff0b"/><circle cx="56.4" cy="427.9" r="2.00" fill="#ffff0d"/><circle cx="54.4" cy="431.2" r="2.00" fill="#ffff0f"/><circle cx="65.7" cy="425.8" r="2.00" fill="#ffff0f"/><circle cx="53.5" cy="435.6" r="2.00" fill="#ffff10"/><circle cx="60.4" cy="435.8" r="2.00" fill="#ffff10"/><circle cx="64.4" cy="432.4" r="2.00" fill="#ffff12"/><circle cx="68.5" cy="423.2" r="2.00" fill="#ffff12"/><circle cx="59.6" cy="436.8" r="2.00" fill="#ffff16"/><circle cx="51.7" cy="435.7" r="2.00" fill="#ffff16"/><circle cx="74.0" cy="427.7" r="2.00" fill="#ffff19"/><circle cx="71.0" cy="427.7" r="2.00" fill="#ffff1c"/><circle cx="62.3" cy="426.5" r="2.00" fill="#ffff1f"/><circle cx="58.0" cy="434.1" r="2.00" fill="#ffff1f"/><circle cx="66.7" cy="434.0" r="2.00" fill="#ffff20"/><circle cx="60.7" cy="423.2" r="2.00" fill="#ffff21"/><circle cx="54.4" cy="427.9" r="2.00" fill="#ffff22"/><circle cx="63.9" cy="422.9" r="2.00" fill="#ffff23"/><circle cx="54.7" cy="434.0" r="2.00" fill="#ffff24"/><circle cx="49.9" cy="429.0" r="2.00" fill="#ffff26"/><circle cx="70.0" cy="432.0" r="2.00" fill="#ffff26"/><circle cx="58.8" cy="435.6" r="2.00" fill="#ffff28"/><circle cx="55.5" cy="429.0" r="2.00" fill="#ffff2e"/><circle cx="70.3" cy="423.2" r="2.00" fill="#ffff2e"/><circle cx="62.6" cy="429.0" r="2.00" fill="#ffff2e"/><circle cx="65.7" cy="428.0" r="2.00" fill="#ffff30"/><circle cx="60.4" cy="429.3" r="2.00" fill="#ffff33"/><circle cx="57.6" cy="426.5" r="2.00" fill="#ffff38"/><circle cx="59.5" cy="432.3" r="2.00" fill="#ffff39"/><circle cx="58.4" cy="430.5" r="2.00" fill="#ffff39"/><circle cx="61.2" cy="434.0" r="2.00" fill="#ffff3d"/><circle cx="68.6" cy="427.8" r="2.00" fill="#ffff41"/><circle cx="64.3" cy="425.7" r="2.00" fill="#ffff47"/><circle cx="52.7" cy="433.5" r="2.00" fill="#ffff48"/><circle cx="55.3" cy="426.6" r="2.00" fill="#ffff4a"/><circle cx="68.6" cy="430.8" r="2.00" fill="#ffff4b"/><circle cx="64.9" cy="430.7" r="2.00" fill="#ffff4c"/><circle cx="65.7" cy="424.2" r="2.00" fill="#ffff4c"/><circle cx="69.8" cy="426.6" r="2.00" fill="#ffff4e"/><circle cx="56.4" cy="434.1" r="2.00" fill="#ffff50"/><circle cx="66.6" cy="427.8" r="2.00" fill="#ffff52"/><circle cx="57.2" cy="431.9" r="2.00" fill="#ffff57"/><circle cx="63.0" cy="427.7" r="2.00" fill="#ffff58"/><circle cx="68.3" cy="429.0" r="2.00" fill="#ffff58"/><circle cx="61.4" cy="428.0" r="2.00" fill="#ffff5f"/><circle cx="62.7" cy="432.5" r="2.00" fill="#ffff65"/><circle cx="58.0" cy="427.8" r="2.00" fill="#ffff69"/><circle cx="60.4" cy="432.4" r="2.00" fill="#ffff6f"/><circle cx="56.0" cy="430.9" r="2.00" fill="#ffff76"/><circle cx="60.0" cy="431.1" r="2.00" fill="#ffff7b"/><circle cx="59.8" cy="427.7" r="2.00" fill="#ffff80"/></g>
<path d="M88.66 2.50V328.20M53.30 281.67H300.82M124.02 2.50V328.20M53.30 235.14H300.82M159.38 2.50V328.20M53.30 188.61H300.82M194.74 2.50V328.20M53.30 142.08H300.82M230.10 2.50V328.20M53.30 95.55H300.82M265.46 2.50V328.20M53.30 49.02H300.82" stroke="#a0a0a0" stroke-opacity="0.5" stroke-width="1" fill="none"/>
<path d="M88.66 347.60V510.40M124.02 347.60V510.40M159.38 347.60V510.40M194.74 347.60V510.40M230.10 347.60V510.40M265.46 347.60V510.40M53.30 494.12H300.82M53.30 461.56H300.82M53.30 396.44H300.82M53.30 363.88H300.82" stroke="#a0a0a0" stroke-opacity="0.5" stroke-width="1" fill="none"/>
<g clip-path="url(#ct)" fill="none" stroke-width="1.05" stroke-dasharray="3.8,1.7">
<path d="M53.30 328.20L300.82 2.49" stroke="#e03c3c"/>
<path d="M53.30 321.22L300.82 -53.35" stroke="#4055dc"/>
<path d="M53.30 335.18L300.82 58.33" stroke="#4055dc"/>
</g>
<g fill="none" stroke-width="1.05" stroke-dasharray="3.8,1.7">
<path d="M53.30 429.00H300.82" stroke="#e03c3c"/>
<path d="M53.30 404.58H300.82 M53.30 453.42H300.82" stroke="#4055dc"/>
</g>
<rect x="53.30" y="2.50" width="247.52" height="325.70" fill="none" stroke="#222" stroke-width="1.1"/>
<rect x="53.30" y="347.60" width="247.52" height="162.80" fill="none" stroke="#222" stroke-width="1.1"/>
<path d="M53.30 328.20v2.0M53.30 510.40v2.0M53.30 328.20h-2.0M88.66 328.20v2.0M88.66 510.40v2.0M53.30 281.67h-2.0M124.02 328.20v2.0M124.02 510.40v2.0M53.30 235.14h-2.0M159.38 328.20v2.0M159.38 510.40v2.0M53.30 188.61h-2.0M194.74 328.20v2.0M194.74 510.40v2.0M53.30 142.08h-2.0M230.10 328.20v2.0M230.10 510.40v2.0M53.30 95.55h-2.0M265.46 328.20v2.0M265.46 510.40v2.0M53.30 49.02h-2.0M300.82 328.20v2.0M300.82 510.40v2.0M53.30 2.49h-2.0M53.30 494.12h-2.0M53.30 461.56h-2.0M53.30 429.00h-2.0M53.30 396.44h-2.0M53.30 363.88h-2.0" stroke="#222" stroke-width="1" fill="none"/>
<text x="50.1" y="331.70" font-size="9" text-anchor="end">0</text>
<text x="53.30" y="521.30" font-size="9" text-anchor="middle">0</text>
<text x="50.1" y="285.17" font-size="9" text-anchor="end">1</text>
<text x="88.66" y="521.30" font-size="9" text-anchor="middle">1</text>
<text x="50.1" y="238.64" font-size="9" text-anchor="end">2</text>
<text x="124.02" y="521.30" font-size="9" text-anchor="middle">2</text>
<text x="50.1" y="192.11" font-size="9" text-anchor="end">3</text>
<text x="159.38" y="521.30" font-size="9" text-anchor="middle">3</text>
<text x="50.1" y="145.58" font-size="9" text-anchor="end">4</text>
<text x="194.74" y="521.30" font-size="9" text-anchor="middle">4</text>
<text x="50.1" y="99.05" font-size="9" text-anchor="end">5</text>
<text x="230.10" y="521.30" font-size="9" text-anchor="middle">5</text>
<text x="50.1" y="52.52" font-size="9" text-anchor="end">6</text>
<text x="265.46" y="521.30" font-size="9" text-anchor="middle">6</text>
<text x="50.1" y="5.99" font-size="9" text-anchor="end">7</text>
<text x="300.82" y="521.30" font-size="9" text-anchor="middle">7</text>
<text x="50.1" y="497.62" font-size="9" text-anchor="end">−0.4</text>
<text x="50.1" y="465.06" font-size="9" text-anchor="end">−0.2</text>
<text x="50.1" y="432.50" font-size="9" text-anchor="end">0.0</text>
<text x="50.1" y="399.94" font-size="9" text-anchor="end">0.2</text>
<text x="50.1" y="367.38" font-size="9" text-anchor="end">0.4</text>
<rect x="316.50" y="2.50" width="16.2" height="325.70" fill="url(#hot)" stroke="#222" stroke-width="1"/>
<rect x="316.50" y="347.60" width="8.8" height="162.80" fill="url(#hot)" stroke="#222" stroke-width="1"/>
<path d="M332.70 328.20h2.4M332.70 286.69h1.4M332.70 262.40h1.4M332.70 245.18h1.4M332.70 231.81h1.4M332.70 220.89h1.4M332.70 211.66h1.4M332.70 203.66h1.4M332.70 196.61h1.4M332.70 190.30h2.4M332.70 148.79h1.4M332.70 124.50h1.4M332.70 107.28h1.4M332.70 93.91h1.4M332.70 82.99h1.4M332.70 73.76h1.4M332.70 65.76h1.4M332.70 58.71h1.4M332.70 52.40h2.4M332.70 10.89h1.4" stroke="#222" stroke-width="0.8" fill="none"/>
<path d="M325.30 510.40h2.4M325.30 487.69h1.4M325.30 474.40h1.4M325.30 464.97h1.4M325.30 457.66h1.4M325.30 451.69h1.4M325.30 446.64h1.4M325.30 442.26h1.4M325.30 438.40h1.4M325.30 434.95h2.4M325.30 412.24h1.4M325.30 398.95h1.4M325.30 389.52h1.4M325.30 382.21h1.4M325.30 376.24h1.4M325.30 371.19h1.4M325.30 366.81h1.4M325.30 362.95h1.4M325.30 359.50h2.4" stroke="#222" stroke-width="0.8" fill="none"/>
<text x="336.6" y="331.50" font-size="9">10<tspan dy="-3.5" font-size="6.3">0</tspan></text>
<text x="328.4" y="513.70" font-size="9">10<tspan dy="-3.5" font-size="6.3">0</tspan></text>
<text x="336.6" y="193.60" font-size="9">10<tspan dy="-3.5" font-size="6.3">1</tspan></text>
<text x="328.4" y="438.25" font-size="9">10<tspan dy="-3.5" font-size="6.3">1</tspan></text>
<text x="336.6" y="55.70" font-size="9">10<tspan dy="-3.5" font-size="6.3">2</tspan></text>
<text x="328.4" y="362.80" font-size="9">10<tspan dy="-3.5" font-size="6.3">2</tspan></text>
<text x="61" y="16.6" font-size="8.6"><tspan font-style="italic">N</tspan> = 4161</text>
<text x="61" y="30.6" font-size="8.6"><tspan font-style="italic">σ</tspan> = 0.25</text>
<text x="61" y="44.3" font-size="8.6"><tspan font-style="italic">NMAD</tspan> = 0.04</text>
<text x="61" y="58.3" font-size="8.6"><tspan font-style="italic">η</tspan> = 10.6%</text>
<text x="168.2" y="335.6" font-size="9" font-style="italic">z</text><text x="173.2" y="336.5" font-size="6.6" font-style="italic" textLength="12.4" lengthAdjust="spacingAndGlyphs">spec</text>
<text x="168.2" y="534.0" font-size="9" font-style="italic">z</text><text x="173.2" y="534.9" font-size="6.6" font-style="italic" textLength="12.4" lengthAdjust="spacingAndGlyphs">spec</text>
<text transform="translate(28.9,181.6) rotate(-90)" font-size="12" font-style="italic">z</text>
<text transform="translate(31.6,174.8) rotate(-90)" font-size="8.6" font-style="italic" textLength="24.6" lengthAdjust="spacingAndGlyphs">photo</text>
<text transform="translate(3.4,455.6) rotate(-90)" font-size="8.6" font-style="italic" textLength="52.7" lengthAdjust="spacingAndGlyphs">z<tspan font-size="6.1" dy="2.9">spec</tspan><tspan font-style="normal" dy="-2.9" font-size="8.6"> − </tspan>z<tspan font-size="6.1" dy="2.9">photo</tspan></text>
<path d="M10.3 402.9V455.6" stroke="#111" stroke-width="1"/>
<text transform="translate(18.4,446.9) rotate(-90)" font-size="8.6" font-style="italic" textLength="34.8" lengthAdjust="spacingAndGlyphs">z<tspan font-size="6.1" dy="0.8">spec</tspan><tspan font-style="normal" dy="-0.8" font-size="8.6"> + 1</tspan></text>
</svg></body></html>
